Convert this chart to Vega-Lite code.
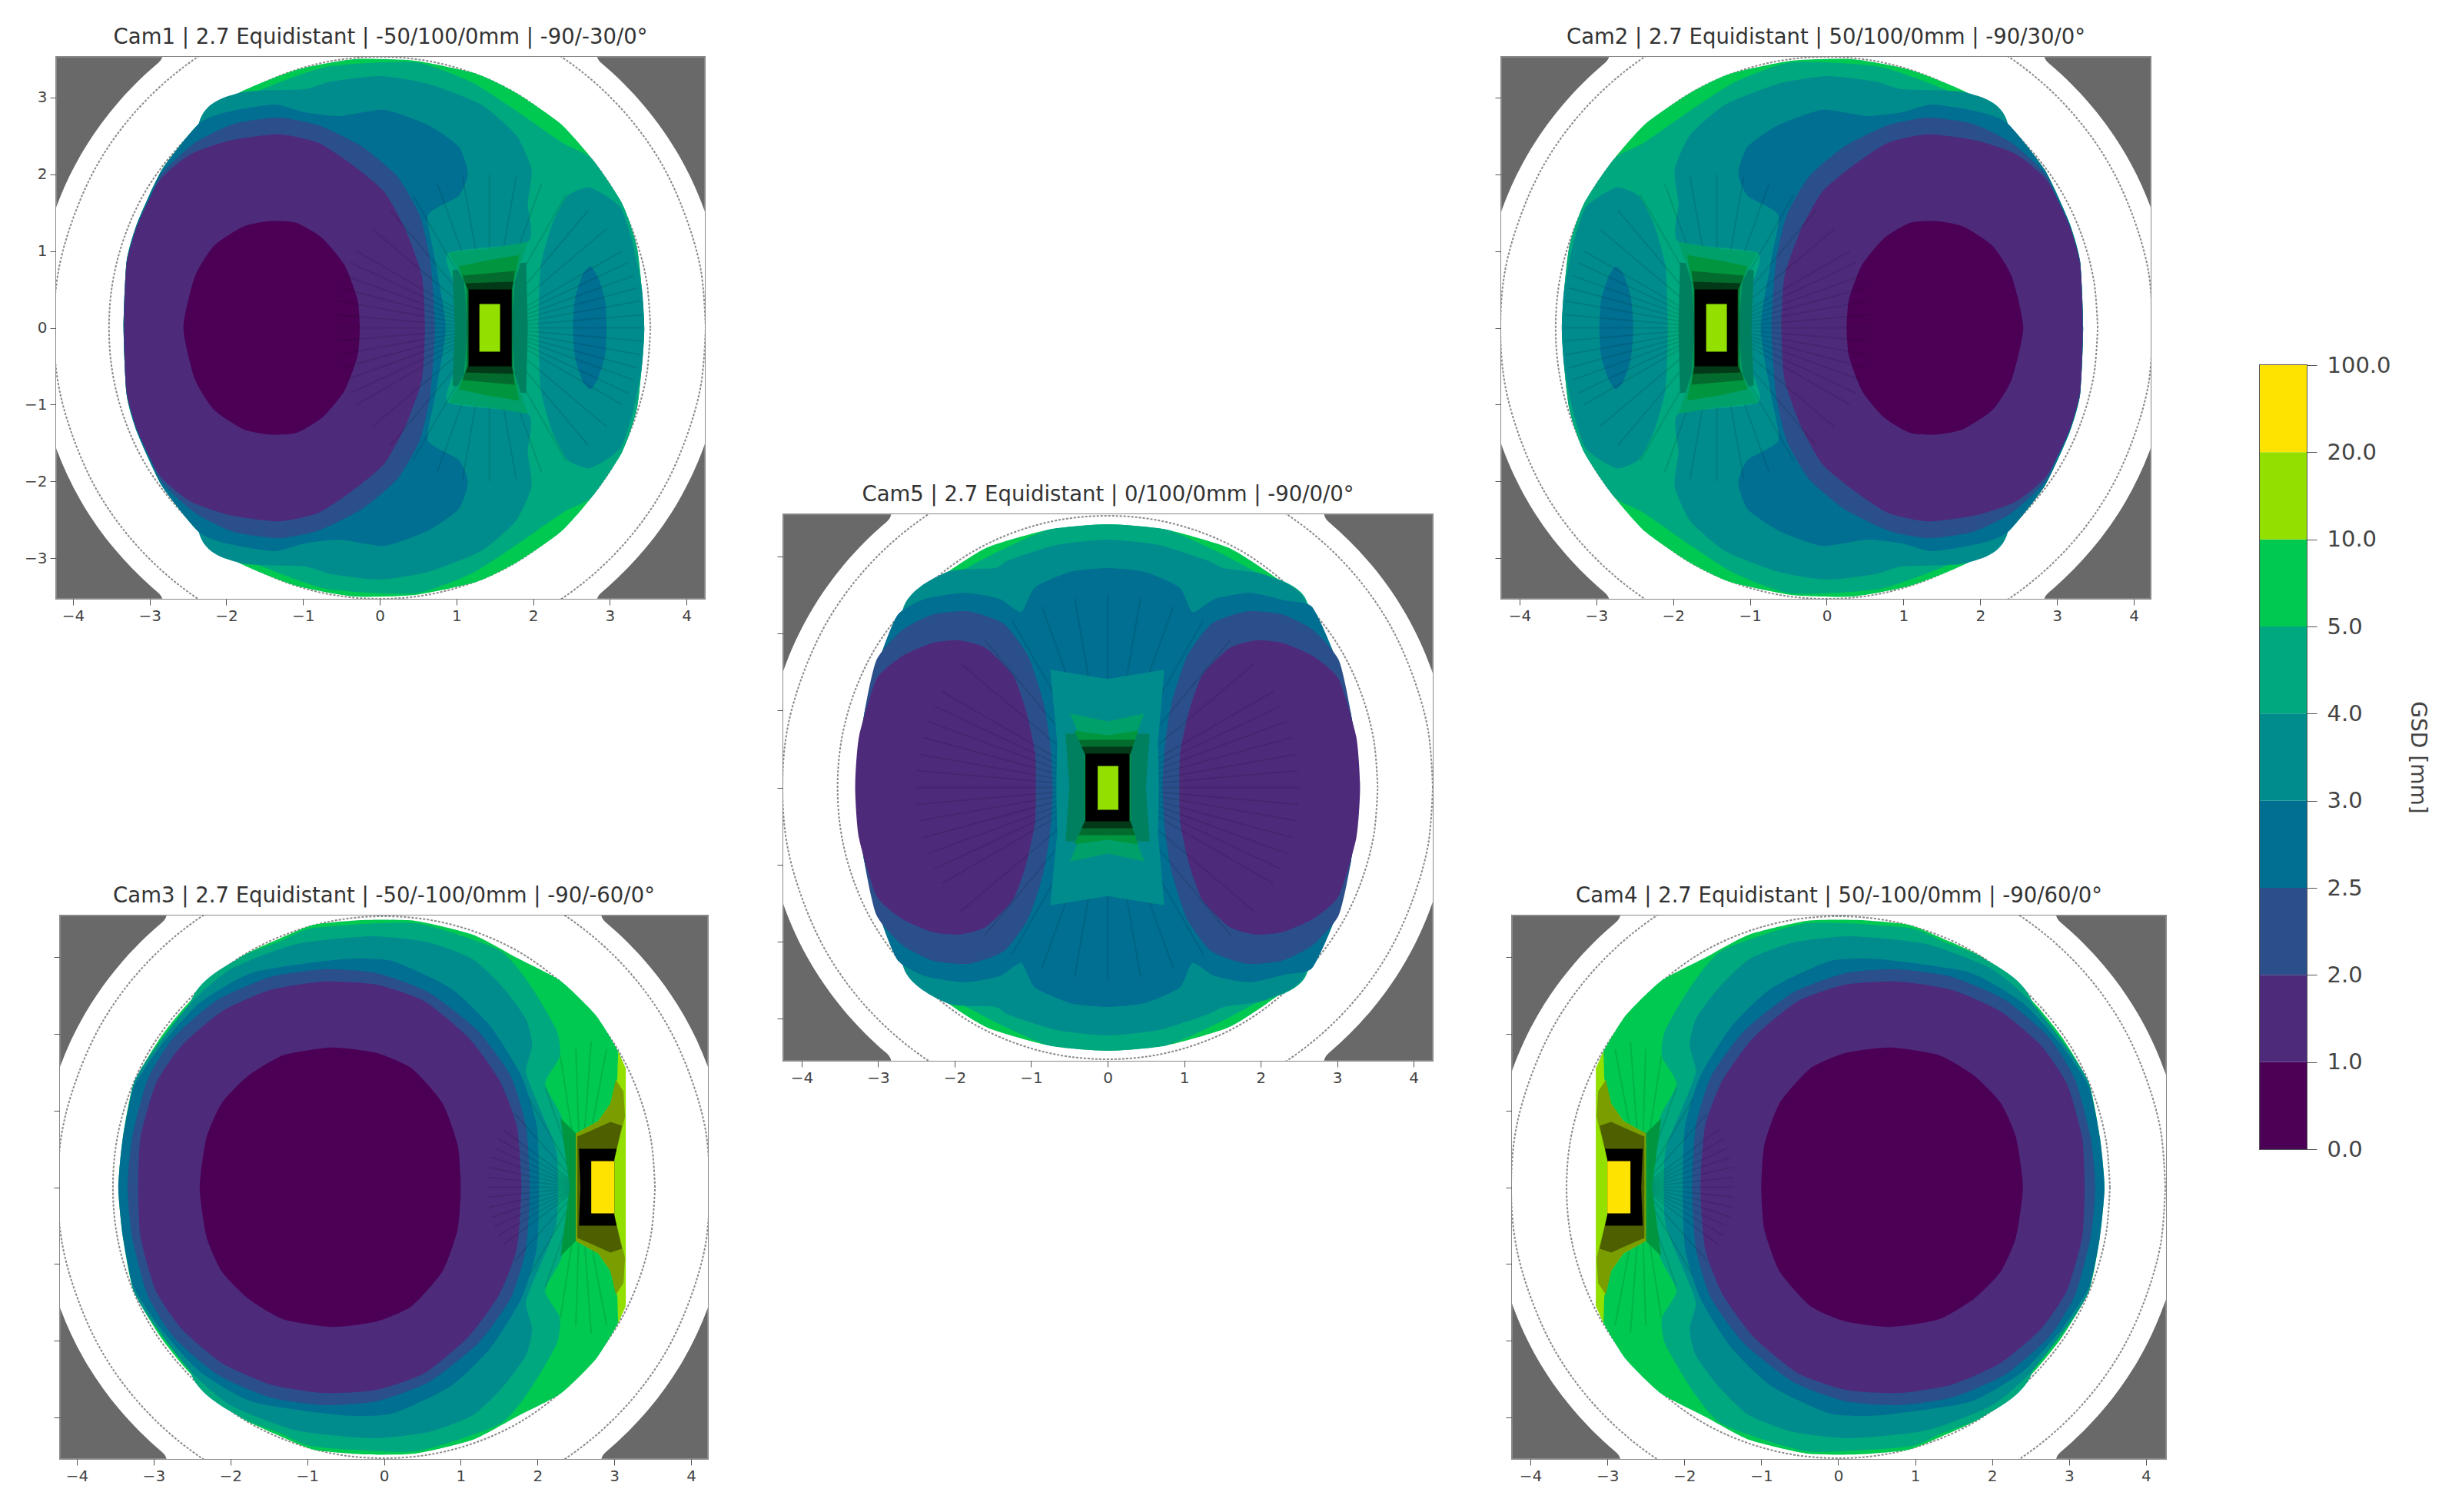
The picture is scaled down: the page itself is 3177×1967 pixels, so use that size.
{"$schema":"https://vega.github.io/schema/vega-lite/v6.json","background":"white","padding":{"left":23,"top":33,"right":0,"bottom":0},"bounds":"full","spacing":0,
"config":{"view":{"stroke":null},"axis":{"grid":false,"domain":false,"labelFont":"DejaVu Sans","labelFontSize":20,"labelColor":"#444","tickColor":"#555","tickSize":8,"labelPadding":4,"title":null},"title":{"font":"DejaVu Sans","fontSize":27.5,"fontWeight":"normal","color":"#333","offset":12}},
"datasets":{
"disc":[{"o":0,"x":4.43,"y":0.78},{"o":1,"x":4.23,"y":1.54},{"o":2,"x":3.9,"y":2.25},{"o":3,"x":3.45,"y":2.89},{"o":4,"x":2.89,"y":3.45},{"o":5,"x":2.25,"y":3.9},{"o":6,"x":-2.25,"y":3.9},{"o":7,"x":-2.89,"y":3.45},{"o":8,"x":-3.45,"y":2.89},{"o":9,"x":-3.9,"y":2.25},{"o":10,"x":-4.23,"y":1.54},{"o":11,"x":-4.43,"y":0.78},{"o":12,"x":-4.43,"y":-0.78},{"o":13,"x":-4.23,"y":-1.54},{"o":14,"x":-3.9,"y":-2.25},{"o":15,"x":-3.45,"y":-2.89},{"o":16,"x":-2.89,"y":-3.45},{"o":17,"x":-2.25,"y":-3.9},{"o":18,"x":2.25,"y":-3.9},{"o":19,"x":2.89,"y":-3.45},{"o":20,"x":3.45,"y":-2.89},{"o":21,"x":3.9,"y":-2.25},{"o":22,"x":4.23,"y":-1.54},{"o":23,"x":4.43,"y":-0.78}],
"rings":[{"r":"o","o":0,"x":4.25,"y":0},{"r":"o","o":1,"x":4.19,"y":0.74},{"r":"o","o":2,"x":3.99,"y":1.45},{"r":"o","o":3,"x":3.68,"y":2.13},{"r":"o","o":4,"x":3.26,"y":2.73},{"r":"o","o":5,"x":2.73,"y":3.26},{"r":"o","o":6,"x":2.13,"y":3.68},{"r":"o","o":7,"x":1.45,"y":3.99},{"r":"o","o":8,"x":-1.45,"y":3.99},{"r":"o","o":9,"x":-2.13,"y":3.68},{"r":"o","o":10,"x":-2.73,"y":3.26},{"r":"o","o":11,"x":-3.26,"y":2.73},{"r":"o","o":12,"x":-3.68,"y":2.13},{"r":"o","o":13,"x":-3.99,"y":1.45},{"r":"o","o":14,"x":-4.19,"y":0.74},{"r":"o","o":15,"x":-4.25,"y":0},{"r":"o","o":16,"x":-4.19,"y":-0.74},{"r":"o","o":17,"x":-3.99,"y":-1.45},{"r":"o","o":18,"x":-3.68,"y":-2.13},{"r":"o","o":19,"x":-3.26,"y":-2.73},{"r":"o","o":20,"x":-2.73,"y":-3.26},{"r":"o","o":21,"x":-2.13,"y":-3.68},{"r":"o","o":22,"x":-1.45,"y":-3.99},{"r":"o","o":23,"x":1.45,"y":-3.99},{"r":"o","o":24,"x":2.13,"y":-3.68},{"r":"o","o":25,"x":2.73,"y":-3.26},{"r":"o","o":26,"x":3.26,"y":-2.73},{"r":"o","o":27,"x":3.68,"y":-2.13},{"r":"o","o":28,"x":3.99,"y":-1.45},{"r":"o","o":29,"x":4.19,"y":-0.74},{"r":"o","o":30,"x":4.25,"y":0},
{"r":"i","o":0,"x":3.53,"y":0},{"r":"i","o":1,"x":3.48,"y":0.61},{"r":"i","o":2,"x":3.32,"y":1.21},{"r":"i","o":3,"x":3.06,"y":1.77},{"r":"i","o":4,"x":2.7,"y":2.27},{"r":"i","o":5,"x":2.27,"y":2.7},{"r":"i","o":6,"x":1.77,"y":3.06},{"r":"i","o":7,"x":1.21,"y":3.32},{"r":"i","o":8,"x":0.61,"y":3.48},{"r":"i","o":9,"x":0,"y":3.53},{"r":"i","o":10,"x":-0.61,"y":3.48},{"r":"i","o":11,"x":-1.21,"y":3.32},{"r":"i","o":12,"x":-1.77,"y":3.06},{"r":"i","o":13,"x":-2.27,"y":2.7},{"r":"i","o":14,"x":-2.7,"y":2.27},{"r":"i","o":15,"x":-3.06,"y":1.77},{"r":"i","o":16,"x":-3.32,"y":1.21},{"r":"i","o":17,"x":-3.48,"y":0.61},{"r":"i","o":18,"x":-3.53,"y":0},{"r":"i","o":19,"x":-3.48,"y":-0.61},{"r":"i","o":20,"x":-3.32,"y":-1.21},{"r":"i","o":21,"x":-3.06,"y":-1.77},{"r":"i","o":22,"x":-2.7,"y":-2.27},{"r":"i","o":23,"x":-2.27,"y":-2.7},{"r":"i","o":24,"x":-1.77,"y":-3.06},{"r":"i","o":25,"x":-1.21,"y":-3.32},{"r":"i","o":26,"x":-0.61,"y":-3.48},{"r":"i","o":27,"x":0,"y":-3.53},{"r":"i","o":28,"x":0.61,"y":-3.48},{"r":"i","o":29,"x":1.21,"y":-3.32},{"r":"i","o":30,"x":1.77,"y":-3.06},{"r":"i","o":31,"x":2.27,"y":-2.7},{"r":"i","o":32,"x":2.7,"y":-2.27},{"r":"i","o":33,"x":3.06,"y":-1.77},{"r":"i","o":34,"x":3.32,"y":-1.21},{"r":"i","o":35,"x":3.48,"y":-0.61},{"r":"i","o":36,"x":3.53,"y":0}],
"p1":[{"b":"g","o":0,"x":-3.34,"y":0},{"b":"g","o":1,"x":-3.3,"y":0.87},{"b":"g","o":2,"x":-3.16,"y":1.37},{"b":"g","o":3,"x":-2.84,"y":2.06},{"b":"g","o":4,"x":-2.36,"y":2.66},{"b":"g","o":5,"x":-1.84,"y":3.06},{"b":"g","o":6,"x":-1.09,"y":3.36},{"b":"g","o":7,"x":-0.34,"y":3.5},{"b":"g","o":8,"x":0.46,"y":3.48},{"b":"g","o":9,"x":1.26,"y":3.31},{"b":"g","o":10,"x":1.78,"y":3.06},{"b":"g","o":11,"x":2.36,"y":2.66},{"b":"g","o":12,"x":2.76,"y":2.21},{"b":"g","o":13,"x":3.16,"y":1.62},{"b":"g","o":14,"x":3.36,"y":1.02},{"b":"g","o":15,"x":3.45,"y":0},{"b":"g","o":16,"x":3.36,"y":-1.02},{"b":"g","o":17,"x":3.16,"y":-1.62},{"b":"g","o":18,"x":2.76,"y":-2.21},{"b":"g","o":19,"x":2.36,"y":-2.66},{"b":"g","o":20,"x":1.78,"y":-3.06},{"b":"g","o":21,"x":1.26,"y":-3.31},{"b":"g","o":22,"x":0.46,"y":-3.48},{"b":"g","o":23,"x":-0.34,"y":-3.5},{"b":"g","o":24,"x":-1.09,"y":-3.36},{"b":"g","o":25,"x":-1.84,"y":-3.06},{"b":"g","o":26,"x":-2.36,"y":-2.66},{"b":"g","o":27,"x":-2.84,"y":-2.06},{"b":"g","o":28,"x":-3.16,"y":-1.37},{"b":"g","o":29,"x":-3.3,"y":-0.87},
{"b":"f","o":0,"x":-3.34,"y":0},{"b":"f","o":1,"x":-3.16,"y":1.37},{"b":"f","o":2,"x":-2.36,"y":2.66},{"b":"f","o":3,"x":-1.7,"y":3.04},{"b":"f","o":4,"x":-0.7,"y":3.4},{"b":"f","o":5,"x":0.46,"y":3.46},{"b":"f","o":6,"x":1.2,"y":3.2},{"b":"f","o":7,"x":1.75,"y":2.85},{"b":"f","o":8,"x":2.4,"y":2.4},{"b":"f","o":9,"x":2.76,"y":2.21},{"b":"f","o":10,"x":3.16,"y":1.62},{"b":"f","o":11,"x":3.36,"y":1.02},{"b":"f","o":12,"x":3.45,"y":0},{"b":"f","o":13,"x":3.36,"y":-1.02},{"b":"f","o":14,"x":3.16,"y":-1.62},{"b":"f","o":15,"x":2.76,"y":-2.21},{"b":"f","o":16,"x":2.4,"y":-2.4},{"b":"f","o":17,"x":1.75,"y":-2.85},{"b":"f","o":18,"x":1.2,"y":-3.2},{"b":"f","o":19,"x":0.46,"y":-3.46},{"b":"f","o":20,"x":-0.7,"y":-3.4},{"b":"f","o":21,"x":-1.7,"y":-3.04},{"b":"f","o":22,"x":-2.36,"y":-2.66},{"b":"f","o":23,"x":-3.16,"y":-1.37},
{"b":"e","o":0,"x":-2.36,"y":2.66},{"b":"e","o":1,"x":-1.84,"y":3.06},{"b":"e","o":2,"x":-0.98,"y":3.11},{"b":"e","o":3,"x":-0.63,"y":3.21},{"b":"e","o":4,"x":0,"y":3.28},{"b":"e","o":5,"x":0.63,"y":3.18},{"b":"e","o":6,"x":1.32,"y":2.91},{"b":"e","o":7,"x":1.78,"y":2.51},{"b":"e","o":8,"x":1.98,"y":2.06},{"b":"e","o":9,"x":1.93,"y":1.62},{"b":"e","o":10,"x":1.93,"y":1.12},{"b":"e","o":11,"x":0.89,"y":0.97},{"b":"e","o":12,"x":1.03,"y":0.4},{"b":"e","o":13,"x":1.03,"y":-0.4},{"b":"e","o":14,"x":0.89,"y":-0.97},{"b":"e","o":15,"x":1.93,"y":-1.12},{"b":"e","o":16,"x":1.93,"y":-1.62},{"b":"e","o":17,"x":1.98,"y":-2.06},{"b":"e","o":18,"x":1.78,"y":-2.51},{"b":"e","o":19,"x":1.32,"y":-2.91},{"b":"e","o":20,"x":0.63,"y":-3.18},{"b":"e","o":21,"x":0,"y":-3.28},{"b":"e","o":22,"x":-0.63,"y":-3.21},{"b":"e","o":23,"x":-0.98,"y":-3.11},{"b":"e","o":24,"x":-1.84,"y":-3.06},{"b":"e","o":25,"x":-2.36,"y":-2.66},{"b":"e","o":26,"x":-2.6,"y":0},
{"b":"d","o":0,"x":-2.36,"y":2.66},{"b":"d","o":1,"x":-2,"y":2.81},{"b":"d","o":2,"x":-1.38,"y":2.91},{"b":"d","o":3,"x":-0.98,"y":2.81},{"b":"d","o":4,"x":-0.52,"y":2.76},{"b":"d","o":5,"x":0.06,"y":2.84},{"b":"d","o":6,"x":0.63,"y":2.64},{"b":"d","o":7,"x":1.03,"y":2.36},{"b":"d","o":8,"x":1.15,"y":2.01},{"b":"d","o":9,"x":1.03,"y":1.72},{"b":"d","o":10,"x":0.63,"y":1.47},{"b":"d","o":11,"x":0.72,"y":0.9},{"b":"d","o":12,"x":0.86,"y":0},{"b":"d","o":13,"x":0.72,"y":-0.9},{"b":"d","o":14,"x":0.63,"y":-1.47},{"b":"d","o":15,"x":1.03,"y":-1.72},{"b":"d","o":16,"x":1.15,"y":-2.01},{"b":"d","o":17,"x":1.03,"y":-2.36},{"b":"d","o":18,"x":0.63,"y":-2.64},{"b":"d","o":19,"x":0.06,"y":-2.84},{"b":"d","o":20,"x":-0.52,"y":-2.76},{"b":"d","o":21,"x":-0.98,"y":-2.81},{"b":"d","o":22,"x":-1.38,"y":-2.91},{"b":"d","o":23,"x":-2,"y":-2.81},{"b":"d","o":24,"x":-2.36,"y":-2.66},{"b":"d","o":25,"x":-2.84,"y":-2.06},{"b":"d","o":26,"x":-3.16,"y":-1.37},{"b":"d","o":27,"x":-3.3,"y":-0.87},{"b":"d","o":28,"x":-3.34,"y":0},{"b":"d","o":29,"x":-3.3,"y":0.87},{"b":"d","o":30,"x":-3.16,"y":1.37},{"b":"d","o":31,"x":-2.84,"y":2.06},
{"b":"c","o":0,"x":-3.16,"y":1.27},{"b":"c","o":1,"x":-2.87,"y":1.97},{"b":"c","o":2,"x":-2.41,"y":2.41},{"b":"c","o":3,"x":-1.9,"y":2.66},{"b":"c","o":4,"x":-1.32,"y":2.74},{"b":"c","o":5,"x":-0.8,"y":2.64},{"b":"c","o":6,"x":-0.23,"y":2.36},{"b":"c","o":7,"x":0.23,"y":1.97},{"b":"c","o":8,"x":0.52,"y":1.47},{"b":"c","o":9,"x":0.66,"y":0.87},{"b":"c","o":10,"x":0.72,"y":0},{"b":"c","o":11,"x":0.66,"y":-0.87},{"b":"c","o":12,"x":0.52,"y":-1.47},{"b":"c","o":13,"x":0.23,"y":-1.97},{"b":"c","o":14,"x":-0.23,"y":-2.36},{"b":"c","o":15,"x":-0.8,"y":-2.64},{"b":"c","o":16,"x":-1.32,"y":-2.74},{"b":"c","o":17,"x":-1.9,"y":-2.66},{"b":"c","o":18,"x":-2.41,"y":-2.41},{"b":"c","o":19,"x":-2.87,"y":-1.97},{"b":"c","o":20,"x":-3.16,"y":-1.27},{"b":"c","o":21,"x":-3.3,"y":-0.87},{"b":"c","o":22,"x":-3.34,"y":0},{"b":"c","o":23,"x":-3.3,"y":0.87},
{"b":"b","o":0,"x":-3.33,"y":0},{"b":"b","o":1,"x":-3.3,"y":0.82},{"b":"b","o":2,"x":-3.16,"y":1.34},{"b":"b","o":3,"x":-2.87,"y":1.92},{"b":"b","o":4,"x":-2.47,"y":2.26},{"b":"b","o":5,"x":-1.95,"y":2.44},{"b":"b","o":6,"x":-1.32,"y":2.52},{"b":"b","o":7,"x":-0.8,"y":2.41},{"b":"b","o":8,"x":-0.34,"y":2.11},{"b":"b","o":9,"x":0.06,"y":1.77},{"b":"b","o":10,"x":0.34,"y":1.27},{"b":"b","o":11,"x":0.55,"y":0.67},{"b":"b","o":12,"x":0.59,"y":0},{"b":"b","o":13,"x":0.55,"y":-0.67},{"b":"b","o":14,"x":0.34,"y":-1.27},{"b":"b","o":15,"x":0.06,"y":-1.77},{"b":"b","o":16,"x":-0.34,"y":-2.11},{"b":"b","o":17,"x":-0.8,"y":-2.41},{"b":"b","o":18,"x":-1.32,"y":-2.52},{"b":"b","o":19,"x":-1.95,"y":-2.44},{"b":"b","o":20,"x":-2.47,"y":-2.26},{"b":"b","o":21,"x":-2.87,"y":-1.92},{"b":"b","o":22,"x":-3.16,"y":-1.34},{"b":"b","o":23,"x":-3.3,"y":-0.82},
{"b":"a","o":0,"x":-2.56,"y":0},{"b":"a","o":1,"x":-2.41,"y":0.67},{"b":"a","o":2,"x":-2.16,"y":1.07},{"b":"a","o":3,"x":-1.78,"y":1.32},{"b":"a","o":4,"x":-1.44,"y":1.39},{"b":"a","o":5,"x":-1.09,"y":1.37},{"b":"a","o":6,"x":-0.75,"y":1.17},{"b":"a","o":7,"x":-0.46,"y":0.82},{"b":"a","o":8,"x":-0.29,"y":0.37},{"b":"a","o":9,"x":-0.26,"y":0},{"b":"a","o":10,"x":-0.29,"y":-0.37},{"b":"a","o":11,"x":-0.46,"y":-0.82},{"b":"a","o":12,"x":-0.75,"y":-1.17},{"b":"a","o":13,"x":-1.09,"y":-1.37},{"b":"a","o":14,"x":-1.44,"y":-1.39},{"b":"a","o":15,"x":-1.78,"y":-1.32},{"b":"a","o":16,"x":-2.16,"y":-1.07},{"b":"a","o":17,"x":-2.41,"y":-0.67},
{"b":"e2","o":0,"x":2.07,"y":0},{"b":"e2","o":1,"x":2.1,"y":0.8},{"b":"e2","o":2,"x":2.25,"y":1.35},{"b":"e2","o":3,"x":2.45,"y":1.72},{"b":"e2","o":4,"x":2.72,"y":1.83},{"b":"e2","o":5,"x":2.95,"y":1.72},{"b":"e2","o":6,"x":3.15,"y":1.55},{"b":"e2","o":7,"x":3.3,"y":1.1},{"b":"e2","o":8,"x":3.42,"y":0.5},{"b":"e2","o":9,"x":3.45,"y":0},{"b":"e2","o":10,"x":3.42,"y":-0.5},{"b":"e2","o":11,"x":3.3,"y":-1.1},{"b":"e2","o":12,"x":3.15,"y":-1.55},{"b":"e2","o":13,"x":2.95,"y":-1.72},{"b":"e2","o":14,"x":2.72,"y":-1.83},{"b":"e2","o":15,"x":2.45,"y":-1.72},{"b":"e2","o":16,"x":2.25,"y":-1.35},{"b":"e2","o":17,"x":2.1,"y":-0.8},
{"b":"d2","o":0,"x":2.52,"y":0},{"b":"d2","o":1,"x":2.55,"y":0.4},{"b":"d2","o":2,"x":2.65,"y":0.7},{"b":"d2","o":3,"x":2.75,"y":0.8},{"b":"d2","o":4,"x":2.85,"y":0.65},{"b":"d2","o":5,"x":2.94,"y":0.35},{"b":"d2","o":6,"x":2.96,"y":0},{"b":"d2","o":7,"x":2.94,"y":-0.35},{"b":"d2","o":8,"x":2.85,"y":-0.65},{"b":"d2","o":9,"x":2.75,"y":-0.8},{"b":"d2","o":10,"x":2.65,"y":-0.7},{"b":"d2","o":11,"x":2.55,"y":-0.4},
{"b":"m0","o":0,"x":0.95,"y":0.75},{"b":"m0","o":1,"x":1.91,"y":0.85},{"b":"m0","o":2,"x":1.93,"y":0},{"b":"m0","o":3,"x":1.91,"y":-0.85},{"b":"m0","o":4,"x":0.95,"y":-0.75},{"b":"m0","o":5,"x":0.98,"y":0},
{"b":"m1","o":0,"x":0.9,"y":0.98},{"b":"m1","o":1,"x":1.4,"y":1.03},{"b":"m1","o":2,"x":1.93,"y":1.12},{"b":"m1","o":3,"x":1.76,"y":0.6},{"b":"m1","o":4,"x":1.72,"y":0},{"b":"m1","o":5,"x":1.76,"y":-0.6},{"b":"m1","o":6,"x":1.93,"y":-1.12},{"b":"m1","o":7,"x":1.4,"y":-1.03},{"b":"m1","o":8,"x":0.9,"y":-0.98},{"b":"m1","o":9,"x":1.1,"y":-0.6},{"b":"m1","o":10,"x":1.15,"y":0},{"b":"m1","o":11,"x":1.1,"y":0.6},
{"b":"m2","o":0,"x":1.03,"y":0.8},{"b":"m2","o":1,"x":1.4,"y":0.88},{"b":"m2","o":2,"x":1.82,"y":0.95},{"b":"m2","o":3,"x":1.74,"y":0.55},{"b":"m2","o":4,"x":1.72,"y":0},{"b":"m2","o":5,"x":1.74,"y":-0.55},{"b":"m2","o":6,"x":1.82,"y":-0.95},{"b":"m2","o":7,"x":1.4,"y":-0.88},{"b":"m2","o":8,"x":1.03,"y":-0.8},{"b":"m2","o":9,"x":1.12,"y":-0.55},{"b":"m2","o":10,"x":1.15,"y":0},{"b":"m2","o":11,"x":1.12,"y":0.55},
{"b":"m3","o":0,"x":1.08,"y":0.68},{"b":"m3","o":1,"x":1.76,"y":0.74},{"b":"m3","o":2,"x":1.73,"y":0.5},{"b":"m3","o":3,"x":1.73,"y":-0.5},{"b":"m3","o":4,"x":1.76,"y":-0.74},{"b":"m3","o":5,"x":1.08,"y":-0.68},{"b":"m3","o":6,"x":1.14,"y":-0.5},{"b":"m3","o":7,"x":1.14,"y":0.5},
{"b":"m4","o":0,"x":1.12,"y":0.58},{"b":"m4","o":1,"x":1.74,"y":0.6},{"b":"m4","o":2,"x":1.72,"y":0.48},{"b":"m4","o":3,"x":1.72,"y":-0.48},{"b":"m4","o":4,"x":1.74,"y":-0.6},{"b":"m4","o":5,"x":1.12,"y":-0.58},{"b":"m4","o":6,"x":1.16,"y":-0.48},{"b":"m4","o":7,"x":1.16,"y":0.48},
{"b":"k","o":0,"x":1.16,"y":0.5},{"b":"k","o":1,"x":1.72,"y":0.5},{"b":"k","o":2,"x":1.72,"y":-0.5},{"b":"k","o":3,"x":1.16,"y":-0.5}],
"p2":[{"b":"g","o":0,"x":3.34,"y":0},{"b":"g","o":1,"x":3.3,"y":0.87},{"b":"g","o":2,"x":3.16,"y":1.37},{"b":"g","o":3,"x":2.84,"y":2.06},{"b":"g","o":4,"x":2.36,"y":2.66},{"b":"g","o":5,"x":1.84,"y":3.06},{"b":"g","o":6,"x":1.09,"y":3.36},{"b":"g","o":7,"x":0.34,"y":3.5},{"b":"g","o":8,"x":-0.46,"y":3.48},{"b":"g","o":9,"x":-1.26,"y":3.31},{"b":"g","o":10,"x":-1.78,"y":3.06},{"b":"g","o":11,"x":-2.36,"y":2.66},{"b":"g","o":12,"x":-2.76,"y":2.21},{"b":"g","o":13,"x":-3.16,"y":1.62},{"b":"g","o":14,"x":-3.36,"y":1.02},{"b":"g","o":15,"x":-3.45,"y":0},{"b":"g","o":16,"x":-3.36,"y":-1.02},{"b":"g","o":17,"x":-3.16,"y":-1.62},{"b":"g","o":18,"x":-2.76,"y":-2.21},{"b":"g","o":19,"x":-2.36,"y":-2.66},{"b":"g","o":20,"x":-1.78,"y":-3.06},{"b":"g","o":21,"x":-1.26,"y":-3.31},{"b":"g","o":22,"x":-0.46,"y":-3.48},{"b":"g","o":23,"x":0.34,"y":-3.5},{"b":"g","o":24,"x":1.09,"y":-3.36},{"b":"g","o":25,"x":1.84,"y":-3.06},{"b":"g","o":26,"x":2.36,"y":-2.66},{"b":"g","o":27,"x":2.84,"y":-2.06},{"b":"g","o":28,"x":3.16,"y":-1.37},{"b":"g","o":29,"x":3.3,"y":-0.87},
{"b":"f","o":0,"x":3.34,"y":0},{"b":"f","o":1,"x":3.16,"y":1.37},{"b":"f","o":2,"x":2.36,"y":2.66},{"b":"f","o":3,"x":1.7,"y":3.04},{"b":"f","o":4,"x":0.7,"y":3.4},{"b":"f","o":5,"x":-0.46,"y":3.46},{"b":"f","o":6,"x":-1.2,"y":3.2},{"b":"f","o":7,"x":-1.75,"y":2.85},{"b":"f","o":8,"x":-2.4,"y":2.4},{"b":"f","o":9,"x":-2.76,"y":2.21},{"b":"f","o":10,"x":-3.16,"y":1.62},{"b":"f","o":11,"x":-3.36,"y":1.02},{"b":"f","o":12,"x":-3.45,"y":0},{"b":"f","o":13,"x":-3.36,"y":-1.02},{"b":"f","o":14,"x":-3.16,"y":-1.62},{"b":"f","o":15,"x":-2.76,"y":-2.21},{"b":"f","o":16,"x":-2.4,"y":-2.4},{"b":"f","o":17,"x":-1.75,"y":-2.85},{"b":"f","o":18,"x":-1.2,"y":-3.2},{"b":"f","o":19,"x":-0.46,"y":-3.46},{"b":"f","o":20,"x":0.7,"y":-3.4},{"b":"f","o":21,"x":1.7,"y":-3.04},{"b":"f","o":22,"x":2.36,"y":-2.66},{"b":"f","o":23,"x":3.16,"y":-1.37},
{"b":"e","o":0,"x":2.36,"y":2.66},{"b":"e","o":1,"x":1.84,"y":3.06},{"b":"e","o":2,"x":0.98,"y":3.11},{"b":"e","o":3,"x":0.63,"y":3.21},{"b":"e","o":4,"x":0,"y":3.28},{"b":"e","o":5,"x":-0.63,"y":3.18},{"b":"e","o":6,"x":-1.32,"y":2.91},{"b":"e","o":7,"x":-1.78,"y":2.51},{"b":"e","o":8,"x":-1.98,"y":2.06},{"b":"e","o":9,"x":-1.93,"y":1.62},{"b":"e","o":10,"x":-1.93,"y":1.12},{"b":"e","o":11,"x":-0.89,"y":0.97},{"b":"e","o":12,"x":-1.03,"y":0.4},{"b":"e","o":13,"x":-1.03,"y":-0.4},{"b":"e","o":14,"x":-0.89,"y":-0.97},{"b":"e","o":15,"x":-1.93,"y":-1.12},{"b":"e","o":16,"x":-1.93,"y":-1.62},{"b":"e","o":17,"x":-1.98,"y":-2.06},{"b":"e","o":18,"x":-1.78,"y":-2.51},{"b":"e","o":19,"x":-1.32,"y":-2.91},{"b":"e","o":20,"x":-0.63,"y":-3.18},{"b":"e","o":21,"x":0,"y":-3.28},{"b":"e","o":22,"x":0.63,"y":-3.21},{"b":"e","o":23,"x":0.98,"y":-3.11},{"b":"e","o":24,"x":1.84,"y":-3.06},{"b":"e","o":25,"x":2.36,"y":-2.66},{"b":"e","o":26,"x":2.6,"y":0},
{"b":"d","o":0,"x":2.36,"y":2.66},{"b":"d","o":1,"x":2,"y":2.81},{"b":"d","o":2,"x":1.38,"y":2.91},{"b":"d","o":3,"x":0.98,"y":2.81},{"b":"d","o":4,"x":0.52,"y":2.76},{"b":"d","o":5,"x":-0.06,"y":2.84},{"b":"d","o":6,"x":-0.63,"y":2.64},{"b":"d","o":7,"x":-1.03,"y":2.36},{"b":"d","o":8,"x":-1.15,"y":2.01},{"b":"d","o":9,"x":-1.03,"y":1.72},{"b":"d","o":10,"x":-0.63,"y":1.47},{"b":"d","o":11,"x":-0.72,"y":0.9},{"b":"d","o":12,"x":-0.86,"y":0},{"b":"d","o":13,"x":-0.72,"y":-0.9},{"b":"d","o":14,"x":-0.63,"y":-1.47},{"b":"d","o":15,"x":-1.03,"y":-1.72},{"b":"d","o":16,"x":-1.15,"y":-2.01},{"b":"d","o":17,"x":-1.03,"y":-2.36},{"b":"d","o":18,"x":-0.63,"y":-2.64},{"b":"d","o":19,"x":-0.06,"y":-2.84},{"b":"d","o":20,"x":0.52,"y":-2.76},{"b":"d","o":21,"x":0.98,"y":-2.81},{"b":"d","o":22,"x":1.38,"y":-2.91},{"b":"d","o":23,"x":2,"y":-2.81},{"b":"d","o":24,"x":2.36,"y":-2.66},{"b":"d","o":25,"x":2.84,"y":-2.06},{"b":"d","o":26,"x":3.16,"y":-1.37},{"b":"d","o":27,"x":3.3,"y":-0.87},{"b":"d","o":28,"x":3.34,"y":0},{"b":"d","o":29,"x":3.3,"y":0.87},{"b":"d","o":30,"x":3.16,"y":1.37},{"b":"d","o":31,"x":2.84,"y":2.06},
{"b":"c","o":0,"x":3.16,"y":1.27},{"b":"c","o":1,"x":2.87,"y":1.97},{"b":"c","o":2,"x":2.41,"y":2.41},{"b":"c","o":3,"x":1.9,"y":2.66},{"b":"c","o":4,"x":1.32,"y":2.74},{"b":"c","o":5,"x":0.8,"y":2.64},{"b":"c","o":6,"x":0.23,"y":2.36},{"b":"c","o":7,"x":-0.23,"y":1.97},{"b":"c","o":8,"x":-0.52,"y":1.47},{"b":"c","o":9,"x":-0.66,"y":0.87},{"b":"c","o":10,"x":-0.72,"y":0},{"b":"c","o":11,"x":-0.66,"y":-0.87},{"b":"c","o":12,"x":-0.52,"y":-1.47},{"b":"c","o":13,"x":-0.23,"y":-1.97},{"b":"c","o":14,"x":0.23,"y":-2.36},{"b":"c","o":15,"x":0.8,"y":-2.64},{"b":"c","o":16,"x":1.32,"y":-2.74},{"b":"c","o":17,"x":1.9,"y":-2.66},{"b":"c","o":18,"x":2.41,"y":-2.41},{"b":"c","o":19,"x":2.87,"y":-1.97},{"b":"c","o":20,"x":3.16,"y":-1.27},{"b":"c","o":21,"x":3.3,"y":-0.87},{"b":"c","o":22,"x":3.34,"y":0},{"b":"c","o":23,"x":3.3,"y":0.87},
{"b":"b","o":0,"x":3.33,"y":0},{"b":"b","o":1,"x":3.3,"y":0.82},{"b":"b","o":2,"x":3.16,"y":1.34},{"b":"b","o":3,"x":2.87,"y":1.92},{"b":"b","o":4,"x":2.47,"y":2.26},{"b":"b","o":5,"x":1.95,"y":2.44},{"b":"b","o":6,"x":1.32,"y":2.52},{"b":"b","o":7,"x":0.8,"y":2.41},{"b":"b","o":8,"x":0.34,"y":2.11},{"b":"b","o":9,"x":-0.06,"y":1.77},{"b":"b","o":10,"x":-0.34,"y":1.27},{"b":"b","o":11,"x":-0.55,"y":0.67},{"b":"b","o":12,"x":-0.59,"y":0},{"b":"b","o":13,"x":-0.55,"y":-0.67},{"b":"b","o":14,"x":-0.34,"y":-1.27},{"b":"b","o":15,"x":-0.06,"y":-1.77},{"b":"b","o":16,"x":0.34,"y":-2.11},{"b":"b","o":17,"x":0.8,"y":-2.41},{"b":"b","o":18,"x":1.32,"y":-2.52},{"b":"b","o":19,"x":1.95,"y":-2.44},{"b":"b","o":20,"x":2.47,"y":-2.26},{"b":"b","o":21,"x":2.87,"y":-1.92},{"b":"b","o":22,"x":3.16,"y":-1.34},{"b":"b","o":23,"x":3.3,"y":-0.82},
{"b":"a","o":0,"x":2.56,"y":0},{"b":"a","o":1,"x":2.41,"y":0.67},{"b":"a","o":2,"x":2.16,"y":1.07},{"b":"a","o":3,"x":1.78,"y":1.32},{"b":"a","o":4,"x":1.44,"y":1.39},{"b":"a","o":5,"x":1.09,"y":1.37},{"b":"a","o":6,"x":0.75,"y":1.17},{"b":"a","o":7,"x":0.46,"y":0.82},{"b":"a","o":8,"x":0.29,"y":0.37},{"b":"a","o":9,"x":0.26,"y":0},{"b":"a","o":10,"x":0.29,"y":-0.37},{"b":"a","o":11,"x":0.46,"y":-0.82},{"b":"a","o":12,"x":0.75,"y":-1.17},{"b":"a","o":13,"x":1.09,"y":-1.37},{"b":"a","o":14,"x":1.44,"y":-1.39},{"b":"a","o":15,"x":1.78,"y":-1.32},{"b":"a","o":16,"x":2.16,"y":-1.07},{"b":"a","o":17,"x":2.41,"y":-0.67},
{"b":"e2","o":0,"x":-2.07,"y":0},{"b":"e2","o":1,"x":-2.1,"y":0.8},{"b":"e2","o":2,"x":-2.25,"y":1.35},{"b":"e2","o":3,"x":-2.45,"y":1.72},{"b":"e2","o":4,"x":-2.72,"y":1.83},{"b":"e2","o":5,"x":-2.95,"y":1.72},{"b":"e2","o":6,"x":-3.15,"y":1.55},{"b":"e2","o":7,"x":-3.3,"y":1.1},{"b":"e2","o":8,"x":-3.42,"y":0.5},{"b":"e2","o":9,"x":-3.45,"y":0},{"b":"e2","o":10,"x":-3.42,"y":-0.5},{"b":"e2","o":11,"x":-3.3,"y":-1.1},{"b":"e2","o":12,"x":-3.15,"y":-1.55},{"b":"e2","o":13,"x":-2.95,"y":-1.72},{"b":"e2","o":14,"x":-2.72,"y":-1.83},{"b":"e2","o":15,"x":-2.45,"y":-1.72},{"b":"e2","o":16,"x":-2.25,"y":-1.35},{"b":"e2","o":17,"x":-2.1,"y":-0.8},
{"b":"d2","o":0,"x":-2.52,"y":0},{"b":"d2","o":1,"x":-2.55,"y":0.4},{"b":"d2","o":2,"x":-2.65,"y":0.7},{"b":"d2","o":3,"x":-2.75,"y":0.8},{"b":"d2","o":4,"x":-2.85,"y":0.65},{"b":"d2","o":5,"x":-2.94,"y":0.35},{"b":"d2","o":6,"x":-2.96,"y":0},{"b":"d2","o":7,"x":-2.94,"y":-0.35},{"b":"d2","o":8,"x":-2.85,"y":-0.65},{"b":"d2","o":9,"x":-2.75,"y":-0.8},{"b":"d2","o":10,"x":-2.65,"y":-0.7},{"b":"d2","o":11,"x":-2.55,"y":-0.4},
{"b":"m0","o":0,"x":-0.95,"y":0.75},{"b":"m0","o":1,"x":-1.91,"y":0.85},{"b":"m0","o":2,"x":-1.93,"y":0},{"b":"m0","o":3,"x":-1.91,"y":-0.85},{"b":"m0","o":4,"x":-0.95,"y":-0.75},{"b":"m0","o":5,"x":-0.98,"y":0},
{"b":"m1","o":0,"x":-0.9,"y":0.98},{"b":"m1","o":1,"x":-1.4,"y":1.03},{"b":"m1","o":2,"x":-1.93,"y":1.12},{"b":"m1","o":3,"x":-1.76,"y":0.6},{"b":"m1","o":4,"x":-1.72,"y":0},{"b":"m1","o":5,"x":-1.76,"y":-0.6},{"b":"m1","o":6,"x":-1.93,"y":-1.12},{"b":"m1","o":7,"x":-1.4,"y":-1.03},{"b":"m1","o":8,"x":-0.9,"y":-0.98},{"b":"m1","o":9,"x":-1.1,"y":-0.6},{"b":"m1","o":10,"x":-1.15,"y":0},{"b":"m1","o":11,"x":-1.1,"y":0.6},
{"b":"m2","o":0,"x":-1.03,"y":0.8},{"b":"m2","o":1,"x":-1.4,"y":0.88},{"b":"m2","o":2,"x":-1.82,"y":0.95},{"b":"m2","o":3,"x":-1.74,"y":0.55},{"b":"m2","o":4,"x":-1.72,"y":0},{"b":"m2","o":5,"x":-1.74,"y":-0.55},{"b":"m2","o":6,"x":-1.82,"y":-0.95},{"b":"m2","o":7,"x":-1.4,"y":-0.88},{"b":"m2","o":8,"x":-1.03,"y":-0.8},{"b":"m2","o":9,"x":-1.12,"y":-0.55},{"b":"m2","o":10,"x":-1.15,"y":0},{"b":"m2","o":11,"x":-1.12,"y":0.55},
{"b":"m3","o":0,"x":-1.08,"y":0.68},{"b":"m3","o":1,"x":-1.76,"y":0.74},{"b":"m3","o":2,"x":-1.73,"y":0.5},{"b":"m3","o":3,"x":-1.73,"y":-0.5},{"b":"m3","o":4,"x":-1.76,"y":-0.74},{"b":"m3","o":5,"x":-1.08,"y":-0.68},{"b":"m3","o":6,"x":-1.14,"y":-0.5},{"b":"m3","o":7,"x":-1.14,"y":0.5},
{"b":"m4","o":0,"x":-1.12,"y":0.58},{"b":"m4","o":1,"x":-1.74,"y":0.6},{"b":"m4","o":2,"x":-1.72,"y":0.48},{"b":"m4","o":3,"x":-1.72,"y":-0.48},{"b":"m4","o":4,"x":-1.74,"y":-0.6},{"b":"m4","o":5,"x":-1.12,"y":-0.58},{"b":"m4","o":6,"x":-1.16,"y":-0.48},{"b":"m4","o":7,"x":-1.16,"y":0.48},
{"b":"k","o":0,"x":-1.16,"y":0.5},{"b":"k","o":1,"x":-1.72,"y":0.5},{"b":"k","o":2,"x":-1.72,"y":-0.5},{"b":"k","o":3,"x":-1.16,"y":-0.5}],
"p5":[{"b":"g","o":0,"x":0,"y":3.42},{"b":"g","o":1,"x":0.77,"y":3.35},{"b":"g","o":2,"x":1.57,"y":3.12},{"b":"g","o":3,"x":2.09,"y":2.8},{"b":"g","o":4,"x":2.61,"y":2.4},{"b":"g","o":5,"x":2.95,"y":1.76},{"b":"g","o":6,"x":3.18,"y":0.96},{"b":"g","o":7,"x":3.29,"y":0},{"b":"g","o":8,"x":3.18,"y":-0.96},{"b":"g","o":9,"x":2.95,"y":-1.76},{"b":"g","o":10,"x":2.61,"y":-2.4},{"b":"g","o":11,"x":2.09,"y":-2.8},{"b":"g","o":12,"x":1.57,"y":-3.12},{"b":"g","o":13,"x":0.77,"y":-3.35},{"b":"g","o":14,"x":0,"y":-3.42},{"b":"g","o":15,"x":-0.77,"y":-3.35},{"b":"g","o":16,"x":-1.57,"y":-3.12},{"b":"g","o":17,"x":-2.09,"y":-2.8},{"b":"g","o":18,"x":-2.61,"y":-2.4},{"b":"g","o":19,"x":-2.95,"y":-1.76},{"b":"g","o":20,"x":-3.18,"y":-0.96},{"b":"g","o":21,"x":-3.29,"y":0},{"b":"g","o":22,"x":-3.18,"y":0.96},{"b":"g","o":23,"x":-2.95,"y":1.76},{"b":"g","o":24,"x":-2.61,"y":2.4},{"b":"g","o":25,"x":-2.09,"y":2.8},{"b":"g","o":26,"x":-1.57,"y":3.12},{"b":"g","o":27,"x":-0.77,"y":3.35},
{"b":"f","o":0,"x":0,"y":3.42},{"b":"f","o":1,"x":0.77,"y":3.35},{"b":"f","o":2,"x":1.4,"y":3.08},{"b":"f","o":3,"x":1.9,"y":2.82},{"b":"f","o":4,"x":2.61,"y":2.4},{"b":"f","o":5,"x":2.7,"y":0},{"b":"f","o":6,"x":2.61,"y":-2.4},{"b":"f","o":7,"x":1.9,"y":-2.82},{"b":"f","o":8,"x":1.4,"y":-3.08},{"b":"f","o":9,"x":0.77,"y":-3.35},{"b":"f","o":10,"x":0,"y":-3.42},{"b":"f","o":11,"x":-0.77,"y":-3.35},{"b":"f","o":12,"x":-1.4,"y":-3.08},{"b":"f","o":13,"x":-1.9,"y":-2.82},{"b":"f","o":14,"x":-2.61,"y":-2.4},{"b":"f","o":15,"x":-2.7,"y":0},{"b":"f","o":16,"x":-2.61,"y":2.4},{"b":"f","o":17,"x":-1.9,"y":2.82},{"b":"f","o":18,"x":-1.4,"y":3.08},{"b":"f","o":19,"x":-0.77,"y":3.35},
{"b":"e","o":0,"x":-2.68,"y":2.3},{"b":"e","o":1,"x":-2.1,"y":2.8},{"b":"e","o":2,"x":-1.47,"y":2.85},{"b":"e","o":3,"x":-1.3,"y":2.95},{"b":"e","o":4,"x":-0.67,"y":3.15},{"b":"e","o":5,"x":0,"y":3.22},{"b":"e","o":6,"x":0.67,"y":3.15},{"b":"e","o":7,"x":1.3,"y":2.95},{"b":"e","o":8,"x":1.52,"y":2.85},{"b":"e","o":9,"x":2.09,"y":2.75},{"b":"e","o":10,"x":2.61,"y":2.35},{"b":"e","o":11,"x":2.7,"y":0},{"b":"e","o":12,"x":2.61,"y":-2.35},{"b":"e","o":13,"x":2.09,"y":-2.75},{"b":"e","o":14,"x":1.52,"y":-2.85},{"b":"e","o":15,"x":1.3,"y":-2.95},{"b":"e","o":16,"x":0.67,"y":-3.15},{"b":"e","o":17,"x":0,"y":-3.22},{"b":"e","o":18,"x":-0.67,"y":-3.15},{"b":"e","o":19,"x":-1.3,"y":-2.95},{"b":"e","o":20,"x":-1.47,"y":-2.85},{"b":"e","o":21,"x":-2.1,"y":-2.8},{"b":"e","o":22,"x":-2.68,"y":-2.3},{"b":"e","o":23,"x":-2.7,"y":0},
{"b":"d","o":0,"x":-2.74,"y":2.25},{"b":"d","o":1,"x":-2.39,"y":2.45},{"b":"d","o":2,"x":-1.87,"y":2.53},{"b":"d","o":3,"x":-1.41,"y":2.45},{"b":"d","o":4,"x":-1.13,"y":2.28},{"b":"d","o":5,"x":-0.95,"y":2.6},{"b":"d","o":6,"x":-0.49,"y":2.8},{"b":"d","o":7,"x":0,"y":2.85},{"b":"d","o":8,"x":0.48,"y":2.8},{"b":"d","o":9,"x":0.94,"y":2.6},{"b":"d","o":10,"x":1.11,"y":2.28},{"b":"d","o":11,"x":1.4,"y":2.45},{"b":"d","o":12,"x":1.86,"y":2.53},{"b":"d","o":13,"x":2.32,"y":2.43},{"b":"d","o":14,"x":2.67,"y":2.35},{"b":"d","o":15,"x":2.95,"y":1.76},{"b":"d","o":16,"x":3.18,"y":0.96},{"b":"d","o":17,"x":3.29,"y":0},{"b":"d","o":18,"x":3.18,"y":-0.96},{"b":"d","o":19,"x":2.95,"y":-1.76},{"b":"d","o":20,"x":2.67,"y":-2.35},{"b":"d","o":21,"x":2.32,"y":-2.43},{"b":"d","o":22,"x":1.86,"y":-2.53},{"b":"d","o":23,"x":1.4,"y":-2.45},{"b":"d","o":24,"x":1.11,"y":-2.28},{"b":"d","o":25,"x":0.94,"y":-2.6},{"b":"d","o":26,"x":0.48,"y":-2.8},{"b":"d","o":27,"x":0,"y":-2.85},{"b":"d","o":28,"x":-0.49,"y":-2.8},{"b":"d","o":29,"x":-0.95,"y":-2.6},{"b":"d","o":30,"x":-1.13,"y":-2.28},{"b":"d","o":31,"x":-1.41,"y":-2.45},{"b":"d","o":32,"x":-1.87,"y":-2.53},{"b":"d","o":33,"x":-2.39,"y":-2.45},{"b":"d","o":34,"x":-2.74,"y":-2.25},{"b":"d","o":35,"x":-2.95,"y":-1.76},{"b":"d","o":36,"x":-3.18,"y":-0.96},{"b":"d","o":37,"x":-3.29,"y":0},{"b":"d","o":38,"x":-3.18,"y":0.96},{"b":"d","o":39,"x":-2.95,"y":1.76},
{"b":"c","o":0,"x":-3.29,"y":0},{"b":"c","o":1,"x":-3.18,"y":0.96},{"b":"c","o":2,"x":-3.02,"y":1.66},{"b":"c","o":3,"x":-2.68,"y":2.05},{"b":"c","o":4,"x":-2.28,"y":2.25},{"b":"c","o":5,"x":-1.82,"y":2.29},{"b":"c","o":6,"x":-1.36,"y":2.13},{"b":"c","o":7,"x":-1.04,"y":1.71},{"b":"c","o":8,"x":-0.84,"y":1.11},{"b":"c","o":9,"x":-0.75,"y":0.56},{"b":"c","o":10,"x":-0.72,"y":0},{"b":"c","o":11,"x":-0.75,"y":-0.56},{"b":"c","o":12,"x":-0.84,"y":-1.11},{"b":"c","o":13,"x":-1.04,"y":-1.71},{"b":"c","o":14,"x":-1.36,"y":-2.13},{"b":"c","o":15,"x":-1.82,"y":-2.29},{"b":"c","o":16,"x":-2.28,"y":-2.25},{"b":"c","o":17,"x":-2.68,"y":-2.05},{"b":"c","o":18,"x":-3.02,"y":-1.66},{"b":"c","o":19,"x":-3.18,"y":-0.96},
{"b":"c2","o":0,"x":3.29,"y":0},{"b":"c2","o":1,"x":3.18,"y":0.96},{"b":"c2","o":2,"x":3.02,"y":1.66},{"b":"c2","o":3,"x":2.68,"y":2.05},{"b":"c2","o":4,"x":2.28,"y":2.25},{"b":"c2","o":5,"x":1.82,"y":2.29},{"b":"c2","o":6,"x":1.36,"y":2.13},{"b":"c2","o":7,"x":1.04,"y":1.71},{"b":"c2","o":8,"x":0.84,"y":1.11},{"b":"c2","o":9,"x":0.75,"y":0.56},{"b":"c2","o":10,"x":0.72,"y":0},{"b":"c2","o":11,"x":0.75,"y":-0.56},{"b":"c2","o":12,"x":0.84,"y":-1.11},{"b":"c2","o":13,"x":1.04,"y":-1.71},{"b":"c2","o":14,"x":1.36,"y":-2.13},{"b":"c2","o":15,"x":1.82,"y":-2.29},{"b":"c2","o":16,"x":2.28,"y":-2.25},{"b":"c2","o":17,"x":2.68,"y":-2.05},{"b":"c2","o":18,"x":3.02,"y":-1.66},{"b":"c2","o":19,"x":3.18,"y":-0.96},
{"b":"b","o":0,"x":-3.3,"y":0},{"b":"b","o":1,"x":-3.25,"y":0.66},{"b":"b","o":2,"x":-3.02,"y":1.41},{"b":"b","o":3,"x":-2.68,"y":1.71},{"b":"b","o":4,"x":-2.28,"y":1.88},{"b":"b","o":5,"x":-1.93,"y":1.91},{"b":"b","o":6,"x":-1.59,"y":1.81},{"b":"b","o":7,"x":-1.24,"y":1.46},{"b":"b","o":8,"x":-1.07,"y":1.01},{"b":"b","o":9,"x":-0.95,"y":0.46},{"b":"b","o":10,"x":-0.94,"y":0},{"b":"b","o":11,"x":-0.95,"y":-0.46},{"b":"b","o":12,"x":-1.07,"y":-1.01},{"b":"b","o":13,"x":-1.24,"y":-1.46},{"b":"b","o":14,"x":-1.59,"y":-1.81},{"b":"b","o":15,"x":-1.93,"y":-1.91},{"b":"b","o":16,"x":-2.28,"y":-1.88},{"b":"b","o":17,"x":-2.68,"y":-1.71},{"b":"b","o":18,"x":-3.02,"y":-1.41},{"b":"b","o":19,"x":-3.25,"y":-0.66},
{"b":"b2","o":0,"x":3.3,"y":0},{"b":"b2","o":1,"x":3.25,"y":0.66},{"b":"b2","o":2,"x":3.02,"y":1.41},{"b":"b2","o":3,"x":2.68,"y":1.71},{"b":"b2","o":4,"x":2.28,"y":1.88},{"b":"b2","o":5,"x":1.93,"y":1.91},{"b":"b2","o":6,"x":1.59,"y":1.81},{"b":"b2","o":7,"x":1.24,"y":1.46},{"b":"b2","o":8,"x":1.07,"y":1.01},{"b":"b2","o":9,"x":0.95,"y":0.46},{"b":"b2","o":10,"x":0.94,"y":0},{"b":"b2","o":11,"x":0.95,"y":-0.46},{"b":"b2","o":12,"x":1.07,"y":-1.01},{"b":"b2","o":13,"x":1.24,"y":-1.46},{"b":"b2","o":14,"x":1.59,"y":-1.81},{"b":"b2","o":15,"x":1.93,"y":-1.91},{"b":"b2","o":16,"x":2.28,"y":-1.88},{"b":"b2","o":17,"x":2.68,"y":-1.71},{"b":"b2","o":18,"x":3.02,"y":-1.41},{"b":"b2","o":19,"x":3.25,"y":-0.66},
{"b":"e3","o":0,"x":-0.75,"y":1.53},{"b":"e3","o":1,"x":0,"y":1.41},{"b":"e3","o":2,"x":0.74,"y":1.53},{"b":"e3","o":3,"x":0.66,"y":0.6},{"b":"e3","o":4,"x":0.67,"y":0},{"b":"e3","o":5,"x":0.66,"y":-0.6},{"b":"e3","o":6,"x":0.74,"y":-1.53},{"b":"e3","o":7,"x":0,"y":-1.41},{"b":"e3","o":8,"x":-0.75,"y":-1.53},{"b":"e3","o":9,"x":-0.66,"y":-0.6},{"b":"e3","o":10,"x":-0.67,"y":0},{"b":"e3","o":11,"x":-0.66,"y":0.6},
{"b":"m0","o":0,"x":-0.55,"y":0.7},{"b":"m0","o":1,"x":0.55,"y":0.7},{"b":"m0","o":2,"x":0.5,"y":0},{"b":"m0","o":3,"x":0.55,"y":-0.7},{"b":"m0","o":4,"x":-0.55,"y":-0.7},{"b":"m0","o":5,"x":-0.5,"y":0},
{"b":"m1","o":0,"x":-0.49,"y":0.96},{"b":"m1","o":1,"x":0,"y":0.86},{"b":"m1","o":2,"x":0.48,"y":0.96},{"b":"m1","o":3,"x":0.3,"y":0.5},{"b":"m1","o":4,"x":0.29,"y":0},{"b":"m1","o":5,"x":0.3,"y":-0.5},{"b":"m1","o":6,"x":0.48,"y":-0.96},{"b":"m1","o":7,"x":0,"y":-0.86},{"b":"m1","o":8,"x":-0.49,"y":-0.96},{"b":"m1","o":9,"x":-0.3,"y":-0.5},{"b":"m1","o":10,"x":-0.29,"y":0},{"b":"m1","o":11,"x":-0.3,"y":0.5},
{"b":"m2","o":0,"x":-0.44,"y":0.74},{"b":"m2","o":1,"x":0,"y":0.68},{"b":"m2","o":2,"x":0.4,"y":0.74},{"b":"m2","o":3,"x":0.3,"y":0.46},{"b":"m2","o":4,"x":0.3,"y":-0.46},{"b":"m2","o":5,"x":0.4,"y":-0.74},{"b":"m2","o":6,"x":0,"y":-0.68},{"b":"m2","o":7,"x":-0.44,"y":-0.74},{"b":"m2","o":8,"x":-0.3,"y":-0.46},{"b":"m2","o":9,"x":-0.3,"y":0.46},
{"b":"m3","o":0,"x":-0.38,"y":0.62},{"b":"m3","o":1,"x":0.36,"y":0.62},{"b":"m3","o":2,"x":0.29,"y":0.44},{"b":"m3","o":3,"x":0.29,"y":-0.44},{"b":"m3","o":4,"x":0.36,"y":-0.62},{"b":"m3","o":5,"x":-0.38,"y":-0.62},{"b":"m3","o":6,"x":-0.29,"y":-0.44},{"b":"m3","o":7,"x":-0.29,"y":0.44},
{"b":"m4","o":0,"x":-0.34,"y":0.53},{"b":"m4","o":1,"x":0.33,"y":0.53},{"b":"m4","o":2,"x":0.29,"y":0.42},{"b":"m4","o":3,"x":0.29,"y":-0.42},{"b":"m4","o":4,"x":0.33,"y":-0.53},{"b":"m4","o":5,"x":-0.34,"y":-0.53},{"b":"m4","o":6,"x":-0.29,"y":-0.42},{"b":"m4","o":7,"x":-0.29,"y":0.42},
{"b":"k","o":0,"x":-0.29,"y":0.44},{"b":"k","o":1,"x":0.28,"y":0.44},{"b":"k","o":2,"x":0.28,"y":-0.44},{"b":"k","o":3,"x":-0.29,"y":-0.44}],
"p3":[{"b":"g","o":0,"x":-3.46,"y":0},{"b":"g","o":1,"x":-3.4,"y":0.65},{"b":"g","o":2,"x":-3.26,"y":1.35},{"b":"g","o":3,"x":-2.91,"y":1.95},{"b":"g","o":4,"x":-2.51,"y":2.44},{"b":"g","o":5,"x":-1.88,"y":2.99},{"b":"g","o":6,"x":-1.36,"y":3.24},{"b":"g","o":7,"x":-0.91,"y":3.42},{"b":"g","o":8,"x":-0.28,"y":3.48},{"b":"g","o":9,"x":0.41,"y":3.47},{"b":"g","o":10,"x":1.16,"y":3.29},{"b":"g","o":11,"x":1.73,"y":2.99},{"b":"g","o":12,"x":2.3,"y":2.69},{"b":"g","o":13,"x":2.76,"y":2.24},{"b":"g","o":14,"x":3.05,"y":1.77},{"b":"g","o":15,"x":3.12,"y":1.55},{"b":"g","o":15.3,"x":3.12,"y":1},{"b":"g","o":15.5,"x":3.12,"y":0},{"b":"g","o":15.7,"x":3.12,"y":-1},{"b":"g","o":16,"x":3.12,"y":-1.55},{"b":"g","o":17,"x":3.05,"y":-1.77},{"b":"g","o":18,"x":2.76,"y":-2.24},{"b":"g","o":19,"x":2.3,"y":-2.69},{"b":"g","o":20,"x":1.73,"y":-2.99},{"b":"g","o":21,"x":1.16,"y":-3.29},{"b":"g","o":22,"x":0.41,"y":-3.47},{"b":"g","o":23,"x":-0.28,"y":-3.48},{"b":"g","o":24,"x":-0.91,"y":-3.42},{"b":"g","o":25,"x":-1.36,"y":-3.24},{"b":"g","o":26,"x":-1.88,"y":-2.99},{"b":"g","o":27,"x":-2.51,"y":-2.44},{"b":"g","o":28,"x":-2.91,"y":-1.95},{"b":"g","o":29,"x":-3.26,"y":-1.35},{"b":"g","o":30,"x":-3.4,"y":-0.65},
{"b":"f","o":0,"x":-2.51,"y":2.44},{"b":"f","o":1,"x":-1.88,"y":2.99},{"b":"f","o":2,"x":-1.36,"y":3.2},{"b":"f","o":3,"x":-0.91,"y":3.38},{"b":"f","o":4,"x":0.41,"y":3.44},{"b":"f","o":5,"x":1.5,"y":3.09},{"b":"f","o":6,"x":1.9,"y":2.64},{"b":"f","o":7,"x":2.25,"y":2.04},{"b":"f","o":8,"x":2.29,"y":1.7},{"b":"f","o":9,"x":2.1,"y":1.35},{"b":"f","o":10,"x":2.3,"y":0.95},{"b":"f","o":11,"x":2.45,"y":0.4},{"b":"f","o":12,"x":2.45,"y":-0.4},{"b":"f","o":13,"x":2.3,"y":-0.95},{"b":"f","o":14,"x":2.1,"y":-1.35},{"b":"f","o":15,"x":2.29,"y":-1.7},{"b":"f","o":16,"x":2.25,"y":-2.04},{"b":"f","o":17,"x":1.9,"y":-2.64},{"b":"f","o":18,"x":1.5,"y":-3.09},{"b":"f","o":19,"x":0.41,"y":-3.44},{"b":"f","o":20,"x":-0.91,"y":-3.38},{"b":"f","o":21,"x":-1.36,"y":-3.2},{"b":"f","o":22,"x":-1.88,"y":-2.99},{"b":"f","o":23,"x":-2.51,"y":-2.44},{"b":"f","o":24,"x":-3.1,"y":0},
{"b":"e","o":0,"x":-3.26,"y":1.35},{"b":"e","o":1,"x":-2.57,"y":2.34},{"b":"e","o":2,"x":-2,"y":2.84},{"b":"e","o":3,"x":-1.14,"y":3.17},{"b":"e","o":4,"x":-0.16,"y":3.27},{"b":"e","o":5,"x":0.58,"y":3.19},{"b":"e","o":6,"x":1.16,"y":2.97},{"b":"e","o":7,"x":1.56,"y":2.59},{"b":"e","o":8,"x":1.85,"y":2.19},{"b":"e","o":9,"x":1.93,"y":1.85},{"b":"e","o":10,"x":1.85,"y":1.5},{"b":"e","o":11,"x":2.02,"y":1.05},{"b":"e","o":12,"x":2.25,"y":0.45},{"b":"e","o":13,"x":2.25,"y":-0.45},{"b":"e","o":14,"x":2.02,"y":-1.05},{"b":"e","o":15,"x":1.85,"y":-1.5},{"b":"e","o":16,"x":1.93,"y":-1.85},{"b":"e","o":17,"x":1.85,"y":-2.19},{"b":"e","o":18,"x":1.56,"y":-2.59},{"b":"e","o":19,"x":1.16,"y":-2.97},{"b":"e","o":20,"x":0.58,"y":-3.19},{"b":"e","o":21,"x":-0.16,"y":-3.27},{"b":"e","o":22,"x":-1.14,"y":-3.17},{"b":"e","o":23,"x":-2,"y":-2.84},{"b":"e","o":24,"x":-2.57,"y":-2.34},{"b":"e","o":25,"x":-3.26,"y":-1.35},{"b":"e","o":26,"x":-3.4,"y":0},
{"b":"d","o":0,"x":-3.46,"y":0},{"b":"d","o":1,"x":-3.4,"y":0.65},{"b":"d","o":2,"x":-3.26,"y":1.3},{"b":"d","o":3,"x":-2.9,"y":1.85},{"b":"d","o":4,"x":-2.4,"y":2.4},{"b":"d","o":5,"x":-1.7,"y":2.8},{"b":"d","o":6,"x":-0.56,"y":2.97},{"b":"d","o":7,"x":0.1,"y":2.95},{"b":"d","o":8,"x":0.87,"y":2.59},{"b":"d","o":9,"x":1.39,"y":2.09},{"b":"d","o":10,"x":1.79,"y":1.45},{"b":"d","o":11,"x":1.99,"y":0.8},{"b":"d","o":12,"x":2.02,"y":0},{"b":"d","o":13,"x":1.99,"y":-0.8},{"b":"d","o":14,"x":1.79,"y":-1.45},{"b":"d","o":15,"x":1.39,"y":-2.09},{"b":"d","o":16,"x":0.87,"y":-2.59},{"b":"d","o":17,"x":0.1,"y":-2.95},{"b":"d","o":18,"x":-0.56,"y":-2.97},{"b":"d","o":19,"x":-1.7,"y":-2.8},{"b":"d","o":20,"x":-2.4,"y":-2.4},{"b":"d","o":21,"x":-2.9,"y":-1.85},{"b":"d","o":22,"x":-3.26,"y":-1.3},{"b":"d","o":23,"x":-3.4,"y":-0.65},
{"b":"c","o":0,"x":-3.34,"y":0},{"b":"c","o":1,"x":-3.28,"y":0.65},{"b":"c","o":2,"x":-3.08,"y":1.4},{"b":"c","o":3,"x":-2.74,"y":1.95},{"b":"c","o":4,"x":-2.17,"y":2.44},{"b":"c","o":5,"x":-1.48,"y":2.74},{"b":"c","o":6,"x":-0.79,"y":2.84},{"b":"c","o":7,"x":-0.1,"y":2.79},{"b":"c","o":8,"x":0.58,"y":2.54},{"b":"c","o":9,"x":1.22,"y":2.04},{"b":"c","o":10,"x":1.65,"y":1.45},{"b":"c","o":11,"x":1.85,"y":0.8},{"b":"c","o":12,"x":1.9,"y":0},{"b":"c","o":13,"x":1.85,"y":-0.8},{"b":"c","o":14,"x":1.65,"y":-1.45},{"b":"c","o":15,"x":1.22,"y":-2.04},{"b":"c","o":16,"x":0.58,"y":-2.54},{"b":"c","o":17,"x":-0.1,"y":-2.79},{"b":"c","o":18,"x":-0.79,"y":-2.84},{"b":"c","o":19,"x":-1.48,"y":-2.74},{"b":"c","o":20,"x":-2.17,"y":-2.44},{"b":"c","o":21,"x":-2.74,"y":-1.95},{"b":"c","o":22,"x":-3.08,"y":-1.4},{"b":"c","o":23,"x":-3.28,"y":-0.65},
{"b":"b","o":0,"x":-3.2,"y":0},{"b":"b","o":1,"x":-3.17,"y":0.65},{"b":"b","o":2,"x":-2.97,"y":1.35},{"b":"b","o":3,"x":-2.63,"y":1.85},{"b":"b","o":4,"x":-2.11,"y":2.29},{"b":"b","o":5,"x":-1.48,"y":2.57},{"b":"b","o":6,"x":-0.79,"y":2.68},{"b":"b","o":7,"x":-0.1,"y":2.64},{"b":"b","o":8,"x":0.53,"y":2.42},{"b":"b","o":9,"x":1.1,"y":1.95},{"b":"b","o":10,"x":1.5,"y":1.4},{"b":"b","o":11,"x":1.73,"y":0.8},{"b":"b","o":12,"x":1.79,"y":0},{"b":"b","o":13,"x":1.73,"y":-0.8},{"b":"b","o":14,"x":1.5,"y":-1.4},{"b":"b","o":15,"x":1.1,"y":-1.95},{"b":"b","o":16,"x":0.53,"y":-2.42},{"b":"b","o":17,"x":-0.1,"y":-2.64},{"b":"b","o":18,"x":-0.79,"y":-2.68},{"b":"b","o":19,"x":-1.48,"y":-2.57},{"b":"b","o":20,"x":-2.11,"y":-2.29},{"b":"b","o":21,"x":-2.63,"y":-1.85},{"b":"b","o":22,"x":-2.97,"y":-1.35},{"b":"b","o":23,"x":-3.17,"y":-0.65},
{"b":"a","o":0,"x":-2.4,"y":0},{"b":"a","o":1,"x":-2.31,"y":0.65},{"b":"a","o":2,"x":-2.11,"y":1.1},{"b":"a","o":3,"x":-1.77,"y":1.45},{"b":"a","o":4,"x":-1.31,"y":1.72},{"b":"a","o":5,"x":-0.68,"y":1.82},{"b":"a","o":6,"x":-0.1,"y":1.75},{"b":"a","o":7,"x":0.36,"y":1.55},{"b":"a","o":8,"x":0.76,"y":1.1},{"b":"a","o":9,"x":0.96,"y":0.55},{"b":"a","o":10,"x":1,"y":0},{"b":"a","o":11,"x":0.96,"y":-0.55},{"b":"a","o":12,"x":0.76,"y":-1.1},{"b":"a","o":13,"x":0.36,"y":-1.55},{"b":"a","o":14,"x":-0.1,"y":-1.75},{"b":"a","o":15,"x":-0.68,"y":-1.82},{"b":"a","o":16,"x":-1.31,"y":-1.72},{"b":"a","o":17,"x":-1.77,"y":-1.45},{"b":"a","o":18,"x":-2.11,"y":-1.1},{"b":"a","o":19,"x":-2.31,"y":-0.65},
{"b":"m2","o":0,"x":2.3,"y":0.9},{"b":"m2","o":1,"x":2.5,"y":0.7},{"b":"m2","o":2,"x":2.56,"y":0},{"b":"m2","o":3,"x":2.5,"y":-0.7},{"b":"m2","o":4,"x":2.3,"y":-0.9},{"b":"m2","o":5,"x":2.42,"y":0},
{"b":"h","o":0,"x":2.5,"y":0.7},{"b":"h","o":1,"x":2.79,"y":0.86},{"b":"h","o":2,"x":2.95,"y":1.09},{"b":"h","o":3,"x":3.04,"y":1.42},{"b":"h","o":4,"x":3.05,"y":1.77},{"b":"h","o":5,"x":3.15,"y":1.55},{"b":"h","o":6,"x":3.15,"y":-1.55},{"b":"h","o":7,"x":3.05,"y":-1.77},{"b":"h","o":8,"x":3.04,"y":-1.42},{"b":"h","o":9,"x":2.95,"y":-1.09},{"b":"h","o":10,"x":2.79,"y":-0.86},{"b":"h","o":11,"x":2.5,"y":-0.7},
{"b":"r1","o":0,"x":2.5,"y":0.7},{"b":"r1","o":1,"x":2.79,"y":0.86},{"b":"r1","o":2,"x":2.95,"y":1.09},{"b":"r1","o":3,"x":3.02,"y":1.4},{"b":"r1","o":4,"x":3.12,"y":1.25},{"b":"r1","o":5,"x":3.14,"y":0.92},{"b":"r1","o":6,"x":3,"y":0.36},{"b":"r1","o":7,"x":3,"y":-0.36},{"b":"r1","o":8,"x":3.14,"y":-0.92},{"b":"r1","o":9,"x":3.12,"y":-1.25},{"b":"r1","o":10,"x":3.02,"y":-1.4},{"b":"r1","o":11,"x":2.95,"y":-1.09},{"b":"r1","o":12,"x":2.79,"y":-0.86},{"b":"r1","o":13,"x":2.5,"y":-0.7},
{"b":"r2","o":0,"x":2.52,"y":0.66},{"b":"r2","o":1,"x":2.75,"y":0.76},{"b":"r2","o":2,"x":2.95,"y":0.85},{"b":"r2","o":3,"x":3.1,"y":0.8},{"b":"r2","o":4,"x":3,"y":0.36},{"b":"r2","o":5,"x":3,"y":-0.36},{"b":"r2","o":6,"x":3.1,"y":-0.8},{"b":"r2","o":7,"x":2.95,"y":-0.85},{"b":"r2","o":8,"x":2.75,"y":-0.76},{"b":"r2","o":9,"x":2.52,"y":-0.66},
{"b":"k","o":0,"x":2.54,"y":0.5},{"b":"k","o":1,"x":3.03,"y":0.5},{"b":"k","o":2,"x":3,"y":0.36},{"b":"k","o":3,"x":3,"y":-0.36},{"b":"k","o":4,"x":3.03,"y":-0.5},{"b":"k","o":5,"x":2.54,"y":-0.5},{"b":"k","o":6,"x":2.56,"y":0}],
"p4":[{"b":"g","o":0,"x":3.46,"y":0},{"b":"g","o":1,"x":3.4,"y":0.65},{"b":"g","o":2,"x":3.26,"y":1.35},{"b":"g","o":3,"x":2.91,"y":1.95},{"b":"g","o":4,"x":2.51,"y":2.44},{"b":"g","o":5,"x":1.88,"y":2.99},{"b":"g","o":6,"x":1.36,"y":3.24},{"b":"g","o":7,"x":0.91,"y":3.42},{"b":"g","o":8,"x":0.28,"y":3.48},{"b":"g","o":9,"x":-0.41,"y":3.47},{"b":"g","o":10,"x":-1.16,"y":3.29},{"b":"g","o":11,"x":-1.73,"y":2.99},{"b":"g","o":12,"x":-2.3,"y":2.69},{"b":"g","o":13,"x":-2.76,"y":2.24},{"b":"g","o":14,"x":-3.05,"y":1.77},{"b":"g","o":15,"x":-3.12,"y":1.55},{"b":"g","o":15.3,"x":-3.12,"y":1},{"b":"g","o":15.5,"x":-3.12,"y":0},{"b":"g","o":15.7,"x":-3.12,"y":-1},{"b":"g","o":16,"x":-3.12,"y":-1.55},{"b":"g","o":17,"x":-3.05,"y":-1.77},{"b":"g","o":18,"x":-2.76,"y":-2.24},{"b":"g","o":19,"x":-2.3,"y":-2.69},{"b":"g","o":20,"x":-1.73,"y":-2.99},{"b":"g","o":21,"x":-1.16,"y":-3.29},{"b":"g","o":22,"x":-0.41,"y":-3.47},{"b":"g","o":23,"x":0.28,"y":-3.48},{"b":"g","o":24,"x":0.91,"y":-3.42},{"b":"g","o":25,"x":1.36,"y":-3.24},{"b":"g","o":26,"x":1.88,"y":-2.99},{"b":"g","o":27,"x":2.51,"y":-2.44},{"b":"g","o":28,"x":2.91,"y":-1.95},{"b":"g","o":29,"x":3.26,"y":-1.35},{"b":"g","o":30,"x":3.4,"y":-0.65},
{"b":"f","o":0,"x":2.51,"y":2.44},{"b":"f","o":1,"x":1.88,"y":2.99},{"b":"f","o":2,"x":1.36,"y":3.2},{"b":"f","o":3,"x":0.91,"y":3.38},{"b":"f","o":4,"x":-0.41,"y":3.44},{"b":"f","o":5,"x":-1.5,"y":3.09},{"b":"f","o":6,"x":-1.9,"y":2.64},{"b":"f","o":7,"x":-2.25,"y":2.04},{"b":"f","o":8,"x":-2.29,"y":1.7},{"b":"f","o":9,"x":-2.1,"y":1.35},{"b":"f","o":10,"x":-2.3,"y":0.95},{"b":"f","o":11,"x":-2.45,"y":0.4},{"b":"f","o":12,"x":-2.45,"y":-0.4},{"b":"f","o":13,"x":-2.3,"y":-0.95},{"b":"f","o":14,"x":-2.1,"y":-1.35},{"b":"f","o":15,"x":-2.29,"y":-1.7},{"b":"f","o":16,"x":-2.25,"y":-2.04},{"b":"f","o":17,"x":-1.9,"y":-2.64},{"b":"f","o":18,"x":-1.5,"y":-3.09},{"b":"f","o":19,"x":-0.41,"y":-3.44},{"b":"f","o":20,"x":0.91,"y":-3.38},{"b":"f","o":21,"x":1.36,"y":-3.2},{"b":"f","o":22,"x":1.88,"y":-2.99},{"b":"f","o":23,"x":2.51,"y":-2.44},{"b":"f","o":24,"x":3.1,"y":0},
{"b":"e","o":0,"x":3.26,"y":1.35},{"b":"e","o":1,"x":2.57,"y":2.34},{"b":"e","o":2,"x":2,"y":2.84},{"b":"e","o":3,"x":1.14,"y":3.17},{"b":"e","o":4,"x":0.16,"y":3.27},{"b":"e","o":5,"x":-0.58,"y":3.19},{"b":"e","o":6,"x":-1.16,"y":2.97},{"b":"e","o":7,"x":-1.56,"y":2.59},{"b":"e","o":8,"x":-1.85,"y":2.19},{"b":"e","o":9,"x":-1.93,"y":1.85},{"b":"e","o":10,"x":-1.85,"y":1.5},{"b":"e","o":11,"x":-2.02,"y":1.05},{"b":"e","o":12,"x":-2.25,"y":0.45},{"b":"e","o":13,"x":-2.25,"y":-0.45},{"b":"e","o":14,"x":-2.02,"y":-1.05},{"b":"e","o":15,"x":-1.85,"y":-1.5},{"b":"e","o":16,"x":-1.93,"y":-1.85},{"b":"e","o":17,"x":-1.85,"y":-2.19},{"b":"e","o":18,"x":-1.56,"y":-2.59},{"b":"e","o":19,"x":-1.16,"y":-2.97},{"b":"e","o":20,"x":-0.58,"y":-3.19},{"b":"e","o":21,"x":0.16,"y":-3.27},{"b":"e","o":22,"x":1.14,"y":-3.17},{"b":"e","o":23,"x":2,"y":-2.84},{"b":"e","o":24,"x":2.57,"y":-2.34},{"b":"e","o":25,"x":3.26,"y":-1.35},{"b":"e","o":26,"x":3.4,"y":0},
{"b":"d","o":0,"x":3.46,"y":0},{"b":"d","o":1,"x":3.4,"y":0.65},{"b":"d","o":2,"x":3.26,"y":1.3},{"b":"d","o":3,"x":2.9,"y":1.85},{"b":"d","o":4,"x":2.4,"y":2.4},{"b":"d","o":5,"x":1.7,"y":2.8},{"b":"d","o":6,"x":0.56,"y":2.97},{"b":"d","o":7,"x":-0.1,"y":2.95},{"b":"d","o":8,"x":-0.87,"y":2.59},{"b":"d","o":9,"x":-1.39,"y":2.09},{"b":"d","o":10,"x":-1.79,"y":1.45},{"b":"d","o":11,"x":-1.99,"y":0.8},{"b":"d","o":12,"x":-2.02,"y":0},{"b":"d","o":13,"x":-1.99,"y":-0.8},{"b":"d","o":14,"x":-1.79,"y":-1.45},{"b":"d","o":15,"x":-1.39,"y":-2.09},{"b":"d","o":16,"x":-0.87,"y":-2.59},{"b":"d","o":17,"x":-0.1,"y":-2.95},{"b":"d","o":18,"x":0.56,"y":-2.97},{"b":"d","o":19,"x":1.7,"y":-2.8},{"b":"d","o":20,"x":2.4,"y":-2.4},{"b":"d","o":21,"x":2.9,"y":-1.85},{"b":"d","o":22,"x":3.26,"y":-1.3},{"b":"d","o":23,"x":3.4,"y":-0.65},
{"b":"c","o":0,"x":3.34,"y":0},{"b":"c","o":1,"x":3.28,"y":0.65},{"b":"c","o":2,"x":3.08,"y":1.4},{"b":"c","o":3,"x":2.74,"y":1.95},{"b":"c","o":4,"x":2.17,"y":2.44},{"b":"c","o":5,"x":1.48,"y":2.74},{"b":"c","o":6,"x":0.79,"y":2.84},{"b":"c","o":7,"x":0.1,"y":2.79},{"b":"c","o":8,"x":-0.58,"y":2.54},{"b":"c","o":9,"x":-1.22,"y":2.04},{"b":"c","o":10,"x":-1.65,"y":1.45},{"b":"c","o":11,"x":-1.85,"y":0.8},{"b":"c","o":12,"x":-1.9,"y":0},{"b":"c","o":13,"x":-1.85,"y":-0.8},{"b":"c","o":14,"x":-1.65,"y":-1.45},{"b":"c","o":15,"x":-1.22,"y":-2.04},{"b":"c","o":16,"x":-0.58,"y":-2.54},{"b":"c","o":17,"x":0.1,"y":-2.79},{"b":"c","o":18,"x":0.79,"y":-2.84},{"b":"c","o":19,"x":1.48,"y":-2.74},{"b":"c","o":20,"x":2.17,"y":-2.44},{"b":"c","o":21,"x":2.74,"y":-1.95},{"b":"c","o":22,"x":3.08,"y":-1.4},{"b":"c","o":23,"x":3.28,"y":-0.65},
{"b":"b","o":0,"x":3.2,"y":0},{"b":"b","o":1,"x":3.17,"y":0.65},{"b":"b","o":2,"x":2.97,"y":1.35},{"b":"b","o":3,"x":2.63,"y":1.85},{"b":"b","o":4,"x":2.11,"y":2.29},{"b":"b","o":5,"x":1.48,"y":2.57},{"b":"b","o":6,"x":0.79,"y":2.68},{"b":"b","o":7,"x":0.1,"y":2.64},{"b":"b","o":8,"x":-0.53,"y":2.42},{"b":"b","o":9,"x":-1.1,"y":1.95},{"b":"b","o":10,"x":-1.5,"y":1.4},{"b":"b","o":11,"x":-1.73,"y":0.8},{"b":"b","o":12,"x":-1.79,"y":0},{"b":"b","o":13,"x":-1.73,"y":-0.8},{"b":"b","o":14,"x":-1.5,"y":-1.4},{"b":"b","o":15,"x":-1.1,"y":-1.95},{"b":"b","o":16,"x":-0.53,"y":-2.42},{"b":"b","o":17,"x":0.1,"y":-2.64},{"b":"b","o":18,"x":0.79,"y":-2.68},{"b":"b","o":19,"x":1.48,"y":-2.57},{"b":"b","o":20,"x":2.11,"y":-2.29},{"b":"b","o":21,"x":2.63,"y":-1.85},{"b":"b","o":22,"x":2.97,"y":-1.35},{"b":"b","o":23,"x":3.17,"y":-0.65},
{"b":"a","o":0,"x":2.4,"y":0},{"b":"a","o":1,"x":2.31,"y":0.65},{"b":"a","o":2,"x":2.11,"y":1.1},{"b":"a","o":3,"x":1.77,"y":1.45},{"b":"a","o":4,"x":1.31,"y":1.72},{"b":"a","o":5,"x":0.68,"y":1.82},{"b":"a","o":6,"x":0.1,"y":1.75},{"b":"a","o":7,"x":-0.36,"y":1.55},{"b":"a","o":8,"x":-0.76,"y":1.1},{"b":"a","o":9,"x":-0.96,"y":0.55},{"b":"a","o":10,"x":-1,"y":0},{"b":"a","o":11,"x":-0.96,"y":-0.55},{"b":"a","o":12,"x":-0.76,"y":-1.1},{"b":"a","o":13,"x":-0.36,"y":-1.55},{"b":"a","o":14,"x":0.1,"y":-1.75},{"b":"a","o":15,"x":0.68,"y":-1.82},{"b":"a","o":16,"x":1.31,"y":-1.72},{"b":"a","o":17,"x":1.77,"y":-1.45},{"b":"a","o":18,"x":2.11,"y":-1.1},{"b":"a","o":19,"x":2.31,"y":-0.65},
{"b":"m2","o":0,"x":-2.3,"y":0.9},{"b":"m2","o":1,"x":-2.5,"y":0.7},{"b":"m2","o":2,"x":-2.56,"y":0},{"b":"m2","o":3,"x":-2.5,"y":-0.7},{"b":"m2","o":4,"x":-2.3,"y":-0.9},{"b":"m2","o":5,"x":-2.42,"y":0},
{"b":"h","o":0,"x":-2.5,"y":0.7},{"b":"h","o":1,"x":-2.79,"y":0.86},{"b":"h","o":2,"x":-2.95,"y":1.09},{"b":"h","o":3,"x":-3.04,"y":1.42},{"b":"h","o":4,"x":-3.05,"y":1.77},{"b":"h","o":5,"x":-3.15,"y":1.55},{"b":"h","o":6,"x":-3.15,"y":-1.55},{"b":"h","o":7,"x":-3.05,"y":-1.77},{"b":"h","o":8,"x":-3.04,"y":-1.42},{"b":"h","o":9,"x":-2.95,"y":-1.09},{"b":"h","o":10,"x":-2.79,"y":-0.86},{"b":"h","o":11,"x":-2.5,"y":-0.7},
{"b":"r1","o":0,"x":-2.5,"y":0.7},{"b":"r1","o":1,"x":-2.79,"y":0.86},{"b":"r1","o":2,"x":-2.95,"y":1.09},{"b":"r1","o":3,"x":-3.02,"y":1.4},{"b":"r1","o":4,"x":-3.12,"y":1.25},{"b":"r1","o":5,"x":-3.14,"y":0.92},{"b":"r1","o":6,"x":-3,"y":0.36},{"b":"r1","o":7,"x":-3,"y":-0.36},{"b":"r1","o":8,"x":-3.14,"y":-0.92},{"b":"r1","o":9,"x":-3.12,"y":-1.25},{"b":"r1","o":10,"x":-3.02,"y":-1.4},{"b":"r1","o":11,"x":-2.95,"y":-1.09},{"b":"r1","o":12,"x":-2.79,"y":-0.86},{"b":"r1","o":13,"x":-2.5,"y":-0.7},
{"b":"r2","o":0,"x":-2.52,"y":0.66},{"b":"r2","o":1,"x":-2.75,"y":0.76},{"b":"r2","o":2,"x":-2.95,"y":0.85},{"b":"r2","o":3,"x":-3.1,"y":0.8},{"b":"r2","o":4,"x":-3,"y":0.36},{"b":"r2","o":5,"x":-3,"y":-0.36},{"b":"r2","o":6,"x":-3.1,"y":-0.8},{"b":"r2","o":7,"x":-2.95,"y":-0.85},{"b":"r2","o":8,"x":-2.75,"y":-0.76},{"b":"r2","o":9,"x":-2.52,"y":-0.66},
{"b":"k","o":0,"x":-2.54,"y":0.5},{"b":"k","o":1,"x":-3.03,"y":0.5},{"b":"k","o":2,"x":-3,"y":0.36},{"b":"k","o":3,"x":-3,"y":-0.36},{"b":"k","o":4,"x":-3.03,"y":-0.5},{"b":"k","o":5,"x":-2.54,"y":-0.5},{"b":"k","o":6,"x":-2.56,"y":0}],
"f1":[{"x":3.43,"y":0},{"x":3.42,"y":0.17},{"x":3.4,"y":0.35},{"x":3.36,"y":0.52},{"x":3.31,"y":0.68},{"x":3.24,"y":0.85},{"x":3.16,"y":1},{"x":2.96,"y":1.29},{"x":2.72,"y":1.53},{"x":2.43,"y":1.73},{"x":2.11,"y":1.88},{"x":1.78,"y":1.97},{"x":1.43,"y":2},{"x":3.42,"y":-0.17},{"x":3.4,"y":-0.35},{"x":3.36,"y":-0.52},{"x":3.31,"y":-0.68},{"x":3.24,"y":-0.85},{"x":3.16,"y":-1},{"x":2.96,"y":-1.29},{"x":2.72,"y":-1.53},{"x":2.43,"y":-1.73},{"x":2.11,"y":-1.88},{"x":1.78,"y":-1.97},{"x":1.43,"y":-2},{"x":-0.57,"y":0},{"x":-0.56,"y":0.17},{"x":-0.54,"y":0.35},{"x":-0.5,"y":0.52},{"x":-0.45,"y":0.68},{"x":-0.38,"y":0.85},{"x":-0.3,"y":1},{"x":-0.1,"y":1.29},{"x":0.14,"y":1.53},{"x":0.43,"y":1.73},{"x":0.75,"y":1.88},{"x":1.08,"y":1.97},{"x":-0.56,"y":-0.17},{"x":-0.54,"y":-0.35},{"x":-0.5,"y":-0.52},{"x":-0.45,"y":-0.68},{"x":-0.38,"y":-0.85},{"x":-0.3,"y":-1},{"x":-0.1,"y":-1.29},{"x":0.14,"y":-1.53},{"x":0.43,"y":-1.73},{"x":0.75,"y":-1.88},{"x":1.08,"y":-1.97}],
"f2":[{"x":-3.43,"y":0},{"x":-3.42,"y":0.17},{"x":-3.4,"y":0.35},{"x":-3.36,"y":0.52},{"x":-3.31,"y":0.68},{"x":-3.24,"y":0.85},{"x":-3.16,"y":1},{"x":-2.96,"y":1.29},{"x":-2.72,"y":1.53},{"x":-2.43,"y":1.73},{"x":-2.11,"y":1.88},{"x":-1.78,"y":1.97},{"x":-1.43,"y":2},{"x":-3.42,"y":-0.17},{"x":-3.4,"y":-0.35},{"x":-3.36,"y":-0.52},{"x":-3.31,"y":-0.68},{"x":-3.24,"y":-0.85},{"x":-3.16,"y":-1},{"x":-2.96,"y":-1.29},{"x":-2.72,"y":-1.53},{"x":-2.43,"y":-1.73},{"x":-2.11,"y":-1.88},{"x":-1.78,"y":-1.97},{"x":-1.43,"y":-2},{"x":0.57,"y":0},{"x":0.56,"y":0.17},{"x":0.54,"y":0.35},{"x":0.5,"y":0.52},{"x":0.45,"y":0.68},{"x":0.38,"y":0.85},{"x":0.3,"y":1},{"x":0.1,"y":1.29},{"x":-0.14,"y":1.53},{"x":-0.43,"y":1.73},{"x":-0.75,"y":1.88},{"x":-1.08,"y":1.97},{"x":0.56,"y":-0.17},{"x":0.54,"y":-0.35},{"x":0.5,"y":-0.52},{"x":0.45,"y":-0.68},{"x":0.38,"y":-0.85},{"x":0.3,"y":-1},{"x":0.1,"y":-1.29},{"x":-0.14,"y":-1.53},{"x":-0.43,"y":-1.73},{"x":-0.75,"y":-1.88},{"x":-1.08,"y":-1.97}],
"f5":[{"x":2.5,"y":0},{"x":2.49,"y":0.22},{"x":2.46,"y":0.43},{"x":2.41,"y":0.65},{"x":2.35,"y":0.86},{"x":2.27,"y":1.06},{"x":2.17,"y":1.25},{"x":1.92,"y":1.61},{"x":1.61,"y":1.92},{"x":1.25,"y":2.17},{"x":0.86,"y":2.35},{"x":0.43,"y":2.46},{"x":0,"y":2.5},{"x":2.49,"y":-0.22},{"x":2.46,"y":-0.43},{"x":2.41,"y":-0.65},{"x":2.35,"y":-0.86},{"x":2.27,"y":-1.06},{"x":2.17,"y":-1.25},{"x":1.92,"y":-1.61},{"x":1.61,"y":-1.92},{"x":1.25,"y":-2.17},{"x":0.86,"y":-2.35},{"x":0.43,"y":-2.46},{"x":0,"y":-2.5},{"x":-2.5,"y":0},{"x":-2.49,"y":0.22},{"x":-2.46,"y":0.43},{"x":-2.41,"y":0.65},{"x":-2.35,"y":0.86},{"x":-2.27,"y":1.06},{"x":-2.17,"y":1.25},{"x":-1.92,"y":1.61},{"x":-1.61,"y":1.92},{"x":-1.25,"y":2.17},{"x":-0.86,"y":2.35},{"x":-0.43,"y":2.46},{"x":-2.49,"y":-0.22},{"x":-2.46,"y":-0.43},{"x":-2.41,"y":-0.65},{"x":-2.35,"y":-0.86},{"x":-2.27,"y":-1.06},{"x":-2.17,"y":-1.25},{"x":-1.92,"y":-1.61},{"x":-1.61,"y":-1.92},{"x":-1.25,"y":-2.17},{"x":-0.86,"y":-2.35},{"x":-0.43,"y":-2.46}],
"f3":[{"x":1.35,"y":0},{"x":1.36,"y":0.13},{"x":1.37,"y":0.26},{"x":1.4,"y":0.39},{"x":1.44,"y":0.51},{"x":1.49,"y":0.63},{"x":1.55,"y":0.75},{"x":1.7,"y":0.96},{"x":1.89,"y":1.15},{"x":2.1,"y":1.3},{"x":1.36,"y":-0.13},{"x":1.37,"y":-0.26},{"x":1.4,"y":-0.39},{"x":1.44,"y":-0.51},{"x":1.49,"y":-0.63},{"x":1.55,"y":-0.75},{"x":1.7,"y":-0.96},{"x":1.89,"y":-1.15},{"x":2.1,"y":-1.3},{"x":2.3,"y":1.7},{"x":2.5,"y":1.8},{"x":2.7,"y":1.9},{"x":2.9,"y":1.8},{"x":2.3,"y":-1.7},{"x":2.5,"y":-1.8},{"x":2.7,"y":-1.9},{"x":2.9,"y":-1.8}],
"f4":[{"x":-1.35,"y":0},{"x":-1.36,"y":0.13},{"x":-1.37,"y":0.26},{"x":-1.4,"y":0.39},{"x":-1.44,"y":0.51},{"x":-1.49,"y":0.63},{"x":-1.55,"y":0.75},{"x":-1.7,"y":0.96},{"x":-1.89,"y":1.15},{"x":-2.1,"y":1.3},{"x":-1.36,"y":-0.13},{"x":-1.37,"y":-0.26},{"x":-1.4,"y":-0.39},{"x":-1.44,"y":-0.51},{"x":-1.49,"y":-0.63},{"x":-1.55,"y":-0.75},{"x":-1.7,"y":-0.96},{"x":-1.89,"y":-1.15},{"x":-2.1,"y":-1.3},{"x":-2.3,"y":1.7},{"x":-2.5,"y":1.8},{"x":-2.7,"y":1.9},{"x":-2.9,"y":1.8},{"x":-2.3,"y":-1.7},{"x":-2.5,"y":-1.8},{"x":-2.7,"y":-1.9},{"x":-2.9,"y":-1.8}]
},
"hconcat":[
{"spacing":0,"vconcat":[
 {"spacing":0,"hconcat":[{"width":1,"height":10,"data":{"values":[{"a":1}]},"mark":{"type":"point","opacity":0},"encoding":{}},
 {"width":844,"height":705,"title":"Cam1 | 2.7 Equidistant | -50/100/0mm | -90/-30/0°","view":{"fill":"#696969","stroke":"#888","strokeWidth":2},
  "encoding":{"x":{"field":"x","type":"quantitative","scale":{"domain":[-4.22,4.24],"nice":false,"zero":false},"axis":{"values":[-4,-3,-2,-1,0,1,2,3,4]}},"y":{"field":"y","type":"quantitative","scale":{"domain":[-3.53,3.53],"nice":false,"zero":false},"axis":{"values":[-3,-2,-1,0,1,2,3]}}},
  "layer":[
  {"data":{"name":"disc"},"mark":{"type":"line","filled":true,"color":"white","clip":true,"interpolate":"cardinal-closed","tension":0},"encoding":{"order":{"field":"o"}}},
  {"data":{"name":"rings"},"mark":{"type":"line","color":"#8a8a8a","strokeWidth":2,"strokeDash":[3,2],"clip":true,"interpolate":"catmull-rom"},"encoding":{"detail":{"field":"r"},"order":{"field":"o"}}},
  {"data":{"name":"p1"},"transform":[{"filter":{"field":"b","oneOf":["a","b","b2","c","c2","d","d2","e","e2","f","g"]}}],"mark":{"type":"line","filled":true,"clip":true,"interpolate":"cardinal-closed","tension":0.4},"encoding":{"order":{"field":"o"},"color":{"field":"b","type":"nominal","legend":null,"scale":{"domain":["a","b","b2","c","c2","d","d2","e","e2","e3","f","g","h","i","m0","m1","m2","m3","m4","k","r1","r2"],"range":["#4b0055","#4e2a7b","#4e2a7b","#2b4f8b","#2b4f8b","#006f92","#006f92","#008c8d","#008c8d","#008c8d","#00a87f","#00c951","#92df00","#ffe300","#00805f","#00a06a","#00963f","#036b2d","#023a18","#000000","#7a9e00","#4e5f00"]}}}},
  {"data":{"name":"f1"},"mark":{"type":"rule","color":"#000","opacity":0.1,"strokeWidth":2,"clip":true},"encoding":{"x2":{"datum":1.43},"y2":{"datum":0}}},
  {"data":{"name":"p1"},"transform":[{"filter":{"field":"b","oneOf":["e3","h","m0","m1","m2","m3","m4","k","r1","r2"]}}],"mark":{"type":"line","filled":true,"clip":true},"encoding":{"order":{"field":"o"},"color":{"field":"b","type":"nominal","legend":null,"scale":{"domain":["a","b","b2","c","c2","d","d2","e","e2","e3","f","g","h","i","m0","m1","m2","m3","m4","k","r1","r2"],"range":["#4b0055","#4e2a7b","#4e2a7b","#2b4f8b","#2b4f8b","#006f92","#006f92","#008c8d","#008c8d","#008c8d","#00a87f","#00c951","#92df00","#ffe300","#00805f","#00a06a","#00963f","#036b2d","#023a18","#000000","#7a9e00","#4e5f00"]}}}},
  {"data":{"values":[{"x":1.3,"x1":1.57,"y":-0.31,"y1":0.31}]},"mark":{"type":"rect","color":"#92df00"},"encoding":{"x2":{"field":"x1"},"y2":{"field":"y1"}}}
 ]}]},
 {"width":10,"height":338,"data":{"values":[{"a":1}]},"mark":{"type":"point","opacity":0},"encoding":{}},
 {"spacing":0,"hconcat":[{"width":42,"height":10,"data":{"values":[{"a":1}]},"mark":{"type":"point","opacity":0},"encoding":{}},
 {"width":843,"height":707,"title":"Cam3 | 2.7 Equidistant | -50/-100/0mm | -90/-60/0°","view":{"fill":"#696969","stroke":"#888","strokeWidth":2},
  "encoding":{"x":{"field":"x","type":"quantitative","scale":{"domain":[-4.22,4.22],"nice":false,"zero":false},"axis":{"values":[-4,-3,-2,-1,0,1,2,3,4]}},"y":{"field":"y","type":"quantitative","scale":{"domain":[-3.54,3.54],"nice":false,"zero":false},"axis":{"values":[-3,-2,-1,0,1,2,3],"labels":false}}},
  "layer":[
  {"data":{"name":"disc"},"mark":{"type":"line","filled":true,"color":"white","clip":true,"interpolate":"cardinal-closed","tension":0},"encoding":{"order":{"field":"o"}}},
  {"data":{"name":"rings"},"mark":{"type":"line","color":"#8a8a8a","strokeWidth":2,"strokeDash":[3,2],"clip":true,"interpolate":"catmull-rom"},"encoding":{"detail":{"field":"r"},"order":{"field":"o"}}},
  {"data":{"name":"p3"},"transform":[{"filter":{"field":"b","oneOf":["a","b","b2","c","c2","d","d2","e","e2","f","g"]}}],"mark":{"type":"line","filled":true,"clip":true,"interpolate":"cardinal-closed","tension":0.4},"encoding":{"order":{"field":"o"},"color":{"field":"b","type":"nominal","legend":null,"scale":{"domain":["a","b","b2","c","c2","d","d2","e","e2","e3","f","g","h","i","m0","m1","m2","m3","m4","k","r1","r2"],"range":["#4b0055","#4e2a7b","#4e2a7b","#2b4f8b","#2b4f8b","#006f92","#006f92","#008c8d","#008c8d","#008c8d","#00a87f","#00c951","#92df00","#ffe300","#00805f","#00a06a","#00963f","#036b2d","#023a18","#000000","#7a9e00","#4e5f00"]}}}},
  {"data":{"name":"f3"},"mark":{"type":"rule","color":"#000","opacity":0.1,"strokeWidth":2,"clip":true},"encoding":{"x2":{"datum":2.56},"y2":{"datum":0}}},
  {"data":{"name":"p3"},"transform":[{"filter":{"field":"b","oneOf":["e3","h","m0","m1","m2","m3","m4","k","r1","r2"]}}],"mark":{"type":"line","filled":true,"clip":true},"encoding":{"order":{"field":"o"},"color":{"field":"b","type":"nominal","legend":null,"scale":{"domain":["a","b","b2","c","c2","d","d2","e","e2","e3","f","g","h","i","m0","m1","m2","m3","m4","k","r1","r2"],"range":["#4b0055","#4e2a7b","#4e2a7b","#2b4f8b","#2b4f8b","#006f92","#006f92","#008c8d","#008c8d","#008c8d","#00a87f","#00c951","#92df00","#ffe300","#00805f","#00a06a","#00963f","#036b2d","#023a18","#000000","#7a9e00","#4e5f00"]}}}},
  {"data":{"values":[{"x":2.7,"x1":3,"y":-0.34,"y1":0.34}]},"mark":{"type":"rect","color":"#ffe300"},"encoding":{"x2":{"field":"x1"},"y2":{"field":"y1"}}}
 ]}]}
]},
{"width":87,"height":10,"data":{"values":[{"a":1}]},"mark":{"type":"point","opacity":0},"encoding":{}},
{"spacing":0,"vconcat":[
 {"width":10,"height":554,"data":{"values":[{"a":1}]},"mark":{"type":"point","opacity":0},"encoding":{}},
 {"width":845,"height":711,"title":"Cam5 | 2.7 Equidistant | 0/100/0mm | -90/0/0°","view":{"fill":"#696969","stroke":"#888","strokeWidth":2},
  "encoding":{"x":{"field":"x","type":"quantitative","scale":{"domain":[-4.24,4.25],"nice":false,"zero":false},"axis":{"values":[-4,-3,-2,-1,0,1,2,3,4]}},"y":{"field":"y","type":"quantitative","scale":{"domain":[-3.55,3.55],"nice":false,"zero":false},"axis":{"values":[-3,-2,-1,0,1,2,3],"labels":false}}},
  "layer":[
  {"data":{"name":"disc"},"mark":{"type":"line","filled":true,"color":"white","clip":true,"interpolate":"cardinal-closed","tension":0},"encoding":{"order":{"field":"o"}}},
  {"data":{"name":"rings"},"mark":{"type":"line","color":"#8a8a8a","strokeWidth":2,"strokeDash":[3,2],"clip":true,"interpolate":"catmull-rom"},"encoding":{"detail":{"field":"r"},"order":{"field":"o"}}},
  {"data":{"name":"p5"},"transform":[{"filter":{"field":"b","oneOf":["a","b","b2","c","c2","d","d2","e","e2","f","g"]}}],"mark":{"type":"line","filled":true,"clip":true,"interpolate":"cardinal-closed","tension":0.4},"encoding":{"order":{"field":"o"},"color":{"field":"b","type":"nominal","legend":null,"scale":{"domain":["a","b","b2","c","c2","d","d2","e","e2","e3","f","g","h","i","m0","m1","m2","m3","m4","k","r1","r2"],"range":["#4b0055","#4e2a7b","#4e2a7b","#2b4f8b","#2b4f8b","#006f92","#006f92","#008c8d","#008c8d","#008c8d","#00a87f","#00c951","#92df00","#ffe300","#00805f","#00a06a","#00963f","#036b2d","#023a18","#000000","#7a9e00","#4e5f00"]}}}},
  {"data":{"name":"f5"},"mark":{"type":"rule","color":"#000","opacity":0.1,"strokeWidth":2,"clip":true},"encoding":{"x2":{"datum":0},"y2":{"datum":0}}},
  {"data":{"name":"p5"},"transform":[{"filter":{"field":"b","oneOf":["e3","h","m0","m1","m2","m3","m4","k","r1","r2"]}}],"mark":{"type":"line","filled":true,"clip":true},"encoding":{"order":{"field":"o"},"color":{"field":"b","type":"nominal","legend":null,"scale":{"domain":["a","b","b2","c","c2","d","d2","e","e2","e3","f","g","h","i","m0","m1","m2","m3","m4","k","r1","r2"],"range":["#4b0055","#4e2a7b","#4e2a7b","#2b4f8b","#2b4f8b","#006f92","#006f92","#008c8d","#008c8d","#008c8d","#00a87f","#00c951","#92df00","#ffe300","#00805f","#00a06a","#00963f","#036b2d","#023a18","#000000","#7a9e00","#4e5f00"]}}}},
  {"data":{"values":[{"x":-0.13,"x1":0.14,"y":-0.29,"y1":0.28}]},"mark":{"type":"rect","color":"#92df00"},"encoding":{"x2":{"field":"x1"},"y2":{"field":"y1"}}}
 ]}
]},
{"width":78,"height":10,"data":{"values":[{"a":1}]},"mark":{"type":"point","opacity":0},"encoding":{}},
{"spacing":0,"vconcat":[
 {"width":845,"height":705,"title":"Cam2 | 2.7 Equidistant | 50/100/0mm | -90/30/0°","view":{"fill":"#696969","stroke":"#888","strokeWidth":2},
  "encoding":{"x":{"field":"x","type":"quantitative","scale":{"domain":[-4.24,4.22],"nice":false,"zero":false},"axis":{"values":[-4,-3,-2,-1,0,1,2,3,4]}},"y":{"field":"y","type":"quantitative","scale":{"domain":[-3.53,3.53],"nice":false,"zero":false},"axis":{"values":[-3,-2,-1,0,1,2,3],"labels":false}}},
  "layer":[
  {"data":{"name":"disc"},"mark":{"type":"line","filled":true,"color":"white","clip":true,"interpolate":"cardinal-closed","tension":0},"encoding":{"order":{"field":"o"}}},
  {"data":{"name":"rings"},"mark":{"type":"line","color":"#8a8a8a","strokeWidth":2,"strokeDash":[3,2],"clip":true,"interpolate":"catmull-rom"},"encoding":{"detail":{"field":"r"},"order":{"field":"o"}}},
  {"data":{"name":"p2"},"transform":[{"filter":{"field":"b","oneOf":["a","b","b2","c","c2","d","d2","e","e2","f","g"]}}],"mark":{"type":"line","filled":true,"clip":true,"interpolate":"cardinal-closed","tension":0.4},"encoding":{"order":{"field":"o"},"color":{"field":"b","type":"nominal","legend":null,"scale":{"domain":["a","b","b2","c","c2","d","d2","e","e2","e3","f","g","h","i","m0","m1","m2","m3","m4","k","r1","r2"],"range":["#4b0055","#4e2a7b","#4e2a7b","#2b4f8b","#2b4f8b","#006f92","#006f92","#008c8d","#008c8d","#008c8d","#00a87f","#00c951","#92df00","#ffe300","#00805f","#00a06a","#00963f","#036b2d","#023a18","#000000","#7a9e00","#4e5f00"]}}}},
  {"data":{"name":"f2"},"mark":{"type":"rule","color":"#000","opacity":0.1,"strokeWidth":2,"clip":true},"encoding":{"x2":{"datum":-1.43},"y2":{"datum":0}}},
  {"data":{"name":"p2"},"transform":[{"filter":{"field":"b","oneOf":["e3","h","m0","m1","m2","m3","m4","k","r1","r2"]}}],"mark":{"type":"line","filled":true,"clip":true},"encoding":{"order":{"field":"o"},"color":{"field":"b","type":"nominal","legend":null,"scale":{"domain":["a","b","b2","c","c2","d","d2","e","e2","e3","f","g","h","i","m0","m1","m2","m3","m4","k","r1","r2"],"range":["#4b0055","#4e2a7b","#4e2a7b","#2b4f8b","#2b4f8b","#006f92","#006f92","#008c8d","#008c8d","#008c8d","#00a87f","#00c951","#92df00","#ffe300","#00805f","#00a06a","#00963f","#036b2d","#023a18","#000000","#7a9e00","#4e5f00"]}}}},
  {"data":{"values":[{"x":-1.57,"x1":-1.3,"y":-0.31,"y1":0.31}]},"mark":{"type":"rect","color":"#92df00"},"encoding":{"x2":{"field":"x1"},"y2":{"field":"y1"}}}
 ]},
 {"width":10,"height":338,"data":{"values":[{"a":1}]},"mark":{"type":"point","opacity":0},"encoding":{}},
 {"spacing":0,"hconcat":[{"width":1,"height":10,"data":{"values":[{"a":1}]},"mark":{"type":"point","opacity":0},"encoding":{}},
 {"width":851,"height":707,"title":"Cam4 | 2.7 Equidistant | 50/-100/0mm | -90/60/0°","view":{"fill":"#696969","stroke":"#888","strokeWidth":2},
  "encoding":{"x":{"field":"x","type":"quantitative","scale":{"domain":[-4.24,4.26],"nice":false,"zero":false},"axis":{"values":[-4,-3,-2,-1,0,1,2,3,4]}},"y":{"field":"y","type":"quantitative","scale":{"domain":[-3.54,3.54],"nice":false,"zero":false},"axis":{"values":[-3,-2,-1,0,1,2,3],"labels":false}}},
  "layer":[
  {"data":{"name":"disc"},"mark":{"type":"line","filled":true,"color":"white","clip":true,"interpolate":"cardinal-closed","tension":0},"encoding":{"order":{"field":"o"}}},
  {"data":{"name":"rings"},"mark":{"type":"line","color":"#8a8a8a","strokeWidth":2,"strokeDash":[3,2],"clip":true,"interpolate":"catmull-rom"},"encoding":{"detail":{"field":"r"},"order":{"field":"o"}}},
  {"data":{"name":"p4"},"transform":[{"filter":{"field":"b","oneOf":["a","b","b2","c","c2","d","d2","e","e2","f","g"]}}],"mark":{"type":"line","filled":true,"clip":true,"interpolate":"cardinal-closed","tension":0.4},"encoding":{"order":{"field":"o"},"color":{"field":"b","type":"nominal","legend":null,"scale":{"domain":["a","b","b2","c","c2","d","d2","e","e2","e3","f","g","h","i","m0","m1","m2","m3","m4","k","r1","r2"],"range":["#4b0055","#4e2a7b","#4e2a7b","#2b4f8b","#2b4f8b","#006f92","#006f92","#008c8d","#008c8d","#008c8d","#00a87f","#00c951","#92df00","#ffe300","#00805f","#00a06a","#00963f","#036b2d","#023a18","#000000","#7a9e00","#4e5f00"]}}}},
  {"data":{"name":"f4"},"mark":{"type":"rule","color":"#000","opacity":0.1,"strokeWidth":2,"clip":true},"encoding":{"x2":{"datum":-2.56},"y2":{"datum":0}}},
  {"data":{"name":"p4"},"transform":[{"filter":{"field":"b","oneOf":["e3","h","m0","m1","m2","m3","m4","k","r1","r2"]}}],"mark":{"type":"line","filled":true,"clip":true},"encoding":{"order":{"field":"o"},"color":{"field":"b","type":"nominal","legend":null,"scale":{"domain":["a","b","b2","c","c2","d","d2","e","e2","e3","f","g","h","i","m0","m1","m2","m3","m4","k","r1","r2"],"range":["#4b0055","#4e2a7b","#4e2a7b","#2b4f8b","#2b4f8b","#006f92","#006f92","#008c8d","#008c8d","#008c8d","#00a87f","#00c951","#92df00","#ffe300","#00805f","#00a06a","#00963f","#036b2d","#023a18","#000000","#7a9e00","#4e5f00"]}}}},
  {"data":{"values":[{"x":-3,"x1":-2.7,"y":-0.34,"y1":0.34}]},"mark":{"type":"rect","color":"#ffe300"},"encoding":{"x2":{"field":"x1"},"y2":{"field":"y1"}}}
 ]}]}
]},
{"width":120,"height":10,"data":{"values":[{"a":1}]},"mark":{"type":"point","opacity":0},"encoding":{}},
{"spacing":0,"vconcat":[
 {"width":10,"height":386,"data":{"values":[{"a":1}]},"mark":{"type":"point","opacity":0},"encoding":{}},
 {"width":61,"height":1020,"view":{"stroke":"#555","strokeWidth":2},"data":{"values":[{"lo":"0.0","hi":"1.0","b":"a"},{"lo":"1.0","hi":"2.0","b":"b"},{"lo":"2.0","hi":"2.5","b":"c"},{"lo":"2.5","hi":"3.0","b":"d"},{"lo":"3.0","hi":"4.0","b":"e"},{"lo":"4.0","hi":"5.0","b":"f"},{"lo":"5.0","hi":"10.0","b":"g"},{"lo":"10.0","hi":"20.0","b":"h"},{"lo":"20.0","hi":"100.0","b":"i"}]},"mark":"rect","encoding":{"y":{"field":"lo","type":"ordinal","scale":{"type":"point","padding":0,"domain":["100.0","20.0","10.0","5.0","4.0","3.0","2.5","2.0","1.0","0.0"]},"axis":{"title":"GSD [mm]","tickSize":13,"labelPadding":13,"labelFontSize":29,"titleFontSize":28,"titleFontWeight":"normal","titleFont":"DejaVu Sans","titleColor":"#444","orient":"right","labelAngle":0,"titlePadding":20}},"y2":{"field":"hi"},"color":{"field":"b","type":"nominal","legend":null,"scale":{"domain":["a","b","b2","c","c2","d","d2","e","e2","e3","f","g","h","i","m0","m1","m2","m3","m4","k","r1","r2"],"range":["#4b0055","#4e2a7b","#4e2a7b","#2b4f8b","#2b4f8b","#006f92","#006f92","#008c8d","#008c8d","#008c8d","#00a87f","#00c951","#92df00","#ffe300","#00805f","#00a06a","#00963f","#036b2d","#023a18","#000000","#7a9e00","#4e5f00"]}}}}
]}
]}
